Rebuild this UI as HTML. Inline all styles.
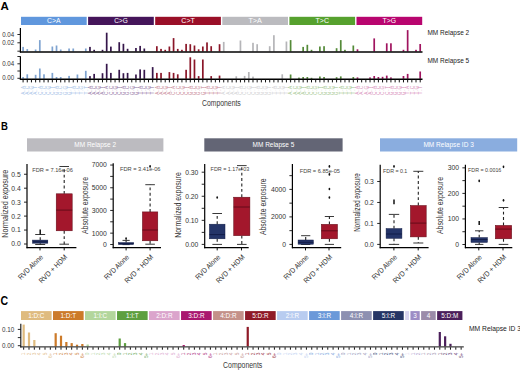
<!DOCTYPE html>
<html><head><meta charset="utf-8"><style>
html,body{margin:0;padding:0;background:#fff;}
body{width:520px;height:371px;overflow:hidden;}
svg{display:block;font-family:"Liberation Sans", sans-serif;}
</style></head><body>
<svg width="520" height="371" viewBox="0 0 520 371">
<rect width="520" height="371" fill="#fff"/>
<text x="0.6" y="10.2" font-size="11.5" fill="#000" text-anchor="start" font-weight="bold">A</text>
<rect x="21" y="16.8" width="65.7" height="8.2" fill="#6097dd"/>
<text x="53.85" y="23.2" font-size="6.8" fill="#fff" text-anchor="middle" font-weight="normal" textLength="13.5" lengthAdjust="spacingAndGlyphs">C&gt;A</text>
<rect x="88.1" y="16.8" width="65.7" height="8.2" fill="#45155a"/>
<text x="120.95" y="23.2" font-size="6.8" fill="#fff" text-anchor="middle" font-weight="normal" textLength="13.5" lengthAdjust="spacingAndGlyphs">C&gt;G</text>
<rect x="155.2" y="16.8" width="65.7" height="8.2" fill="#9a0f28"/>
<text x="188.05" y="23.2" font-size="6.8" fill="#fff" text-anchor="middle" font-weight="normal" textLength="13.5" lengthAdjust="spacingAndGlyphs">C&gt;T</text>
<rect x="222.3" y="16.8" width="65.7" height="8.2" fill="#bbbbbf"/>
<text x="255.15" y="23.2" font-size="6.8" fill="#fff" text-anchor="middle" font-weight="normal" textLength="13.5" lengthAdjust="spacingAndGlyphs">T&gt;A</text>
<rect x="289.4" y="16.8" width="65.7" height="8.2" fill="#56a12e"/>
<text x="322.25" y="23.2" font-size="6.8" fill="#fff" text-anchor="middle" font-weight="normal" textLength="13.5" lengthAdjust="spacingAndGlyphs">T&gt;C</text>
<rect x="356.5" y="16.8" width="65.7" height="8.2" fill="#b8056f"/>
<text x="389.35" y="23.2" font-size="6.8" fill="#fff" text-anchor="middle" font-weight="normal" textLength="13.5" lengthAdjust="spacingAndGlyphs">T&gt;G</text>
<rect x="22.24" y="46.9" width="1.7" height="4.6" fill="#7fa3d0"/>
<rect x="26.42" y="49.1" width="1.7" height="2.4" fill="#7fa3d0"/>
<rect x="34.78" y="49.5" width="1.7" height="2" fill="#7fa3d0"/>
<rect x="38.96" y="40.1" width="1.7" height="11.4" fill="#7fa3d0"/>
<rect x="51.5" y="46.5" width="1.7" height="5" fill="#7fa3d0"/>
<rect x="55.68" y="45.5" width="1.7" height="6" fill="#7fa3d0"/>
<rect x="59.86" y="49.5" width="1.7" height="2" fill="#7fa3d0"/>
<rect x="68.22" y="48.5" width="1.7" height="3" fill="#7fa3d0"/>
<rect x="72.4" y="48.5" width="1.7" height="3" fill="#7fa3d0"/>
<rect x="84.94" y="48.5" width="1.7" height="3" fill="#7fa3d0"/>
<rect x="89.12" y="46.9" width="1.7" height="4.6" fill="#35164a"/>
<rect x="93.3" y="49.8" width="1.7" height="1.7" fill="#35164a"/>
<rect x="101.66" y="49.8" width="1.7" height="1.7" fill="#35164a"/>
<rect x="105.84" y="32.7" width="1.7" height="18.8" fill="#35164a"/>
<rect x="110.02" y="46.6" width="1.7" height="4.9" fill="#35164a"/>
<rect x="118.38" y="42.2" width="1.7" height="9.3" fill="#35164a"/>
<rect x="122.56" y="43.8" width="1.7" height="7.7" fill="#35164a"/>
<rect x="126.74" y="48.8" width="1.7" height="2.7" fill="#35164a"/>
<rect x="135.1" y="48" width="1.7" height="3.5" fill="#35164a"/>
<rect x="139.28" y="45.9" width="1.7" height="5.6" fill="#35164a"/>
<rect x="143.46" y="48.5" width="1.7" height="3" fill="#35164a"/>
<rect x="156" y="46.2" width="1.7" height="5.3" fill="#8a1628"/>
<rect x="160.18" y="48.9" width="1.7" height="2.6" fill="#8a1628"/>
<rect x="164.36" y="49.8" width="1.7" height="1.7" fill="#8a1628"/>
<rect x="168.54" y="46.5" width="1.7" height="5" fill="#8a1628"/>
<rect x="172.72" y="38.1" width="1.7" height="13.4" fill="#8a1628"/>
<rect x="176.9" y="48.9" width="1.7" height="2.6" fill="#8a1628"/>
<rect x="181.08" y="49.8" width="1.7" height="1.7" fill="#8a1628"/>
<rect x="185.26" y="43.9" width="1.7" height="7.6" fill="#8a1628"/>
<rect x="189.44" y="44.2" width="1.7" height="7.3" fill="#8a1628"/>
<rect x="193.62" y="45.5" width="1.7" height="6" fill="#8a1628"/>
<rect x="197.8" y="49.3" width="1.7" height="2.2" fill="#8a1628"/>
<rect x="201.98" y="46.5" width="1.7" height="5" fill="#8a1628"/>
<rect x="206.16" y="42.4" width="1.7" height="9.1" fill="#8a1628"/>
<rect x="210.34" y="46.2" width="1.7" height="5.3" fill="#8a1628"/>
<rect x="218.7" y="44.2" width="1.7" height="7.3" fill="#8a1628"/>
<rect x="222.88" y="41.9" width="1.7" height="9.6" fill="#b5b5b8"/>
<rect x="239.6" y="40.5" width="1.7" height="11" fill="#b5b5b8"/>
<rect x="252.14" y="42.8" width="1.7" height="8.7" fill="#b5b5b8"/>
<rect x="256.32" y="44.2" width="1.7" height="7.3" fill="#b5b5b8"/>
<rect x="268.86" y="46.2" width="1.7" height="5.3" fill="#b5b5b8"/>
<rect x="273.04" y="35.2" width="1.7" height="16.3" fill="#b5b5b8"/>
<rect x="285.58" y="41.5" width="1.7" height="10" fill="#b5b5b8"/>
<rect x="289.76" y="40.1" width="1.7" height="11.4" fill="#548a38"/>
<rect x="302.3" y="46.9" width="1.7" height="4.6" fill="#548a38"/>
<rect x="306.48" y="44.8" width="1.7" height="6.7" fill="#548a38"/>
<rect x="310.66" y="49.8" width="1.7" height="1.7" fill="#548a38"/>
<rect x="319.02" y="46.5" width="1.7" height="5" fill="#548a38"/>
<rect x="323.2" y="46.2" width="1.7" height="5.3" fill="#548a38"/>
<rect x="335.74" y="48.2" width="1.7" height="3.3" fill="#548a38"/>
<rect x="339.92" y="40.1" width="1.7" height="11.4" fill="#548a38"/>
<rect x="344.1" y="49.8" width="1.7" height="1.7" fill="#548a38"/>
<rect x="352.46" y="45.5" width="1.7" height="6" fill="#548a38"/>
<rect x="356.64" y="49.3" width="1.7" height="2.2" fill="#a0145f"/>
<rect x="373.36" y="38.4" width="1.7" height="13.1" fill="#a0145f"/>
<rect x="385.9" y="43.3" width="1.7" height="8.2" fill="#a0145f"/>
<rect x="390.08" y="43.3" width="1.7" height="8.2" fill="#a0145f"/>
<rect x="402.62" y="49.8" width="1.7" height="1.7" fill="#a0145f"/>
<rect x="406.8" y="30.1" width="1.7" height="21.4" fill="#a0145f"/>
<rect x="415.16" y="49.8" width="1.7" height="1.7" fill="#a0145f"/>
<rect x="419.34" y="44" width="1.7" height="7.5" fill="#a0145f"/>
<rect x="22.24" y="77" width="1.7" height="1.8" fill="#7fa3d0"/>
<rect x="26.42" y="74.3" width="1.7" height="4.5" fill="#7fa3d0"/>
<rect x="34.78" y="74.8" width="1.7" height="4" fill="#7fa3d0"/>
<rect x="38.96" y="68.5" width="1.7" height="10.3" fill="#7fa3d0"/>
<rect x="43.14" y="74.3" width="1.7" height="4.5" fill="#7fa3d0"/>
<rect x="51.5" y="72.9" width="1.7" height="5.9" fill="#7fa3d0"/>
<rect x="55.68" y="77" width="1.7" height="1.8" fill="#7fa3d0"/>
<rect x="59.86" y="77" width="1.7" height="1.8" fill="#7fa3d0"/>
<rect x="68.22" y="75.9" width="1.7" height="2.9" fill="#7fa3d0"/>
<rect x="76.58" y="74.5" width="1.7" height="4.3" fill="#7fa3d0"/>
<rect x="84.94" y="70.8" width="1.7" height="8" fill="#7fa3d0"/>
<rect x="89.12" y="76.1" width="1.7" height="2.7" fill="#35164a"/>
<rect x="93.3" y="73.9" width="1.7" height="4.9" fill="#35164a"/>
<rect x="101.66" y="73.2" width="1.7" height="5.6" fill="#35164a"/>
<rect x="105.84" y="63.8" width="1.7" height="15" fill="#35164a"/>
<rect x="110.02" y="72.9" width="1.7" height="5.9" fill="#35164a"/>
<rect x="118.38" y="69.8" width="1.7" height="9" fill="#35164a"/>
<rect x="122.56" y="73.2" width="1.7" height="5.6" fill="#35164a"/>
<rect x="126.74" y="72.9" width="1.7" height="5.9" fill="#35164a"/>
<rect x="135.1" y="74.5" width="1.7" height="4.3" fill="#35164a"/>
<rect x="139.28" y="69.4" width="1.7" height="9.4" fill="#35164a"/>
<rect x="143.46" y="69.8" width="1.7" height="9" fill="#35164a"/>
<rect x="151.82" y="67.1" width="1.7" height="11.7" fill="#35164a"/>
<rect x="156" y="72.9" width="1.7" height="5.9" fill="#8a1628"/>
<rect x="160.18" y="72.9" width="1.7" height="5.9" fill="#8a1628"/>
<rect x="168.54" y="72.1" width="1.7" height="6.7" fill="#8a1628"/>
<rect x="172.72" y="72.9" width="1.7" height="5.9" fill="#8a1628"/>
<rect x="176.9" y="74.3" width="1.7" height="4.5" fill="#8a1628"/>
<rect x="185.26" y="69.8" width="1.7" height="9" fill="#8a1628"/>
<rect x="189.44" y="57.3" width="1.7" height="21.5" fill="#8a1628"/>
<rect x="193.62" y="59.5" width="1.7" height="19.3" fill="#8a1628"/>
<rect x="197.8" y="76.1" width="1.7" height="2.7" fill="#8a1628"/>
<rect x="201.98" y="59.5" width="1.7" height="19.3" fill="#8a1628"/>
<rect x="210.34" y="76.1" width="1.7" height="2.7" fill="#8a1628"/>
<rect x="218.7" y="75.6" width="1.7" height="3.2" fill="#8a1628"/>
<rect x="235.42" y="76.3" width="1.7" height="2.5" fill="#b5b5b8"/>
<rect x="243.78" y="75.9" width="1.7" height="2.9" fill="#b5b5b8"/>
<rect x="247.96" y="72" width="1.7" height="6.8" fill="#b5b5b8"/>
<rect x="252.14" y="76.6" width="1.7" height="2.2" fill="#b5b5b8"/>
<rect x="281.4" y="74.3" width="1.7" height="4.5" fill="#b5b5b8"/>
<rect x="289.76" y="74.5" width="1.7" height="4.3" fill="#548a38"/>
<rect x="298.12" y="77.6" width="1.7" height="1.2" fill="#548a38"/>
<rect x="302.3" y="77" width="1.7" height="1.8" fill="#548a38"/>
<rect x="306.48" y="77" width="1.7" height="1.8" fill="#548a38"/>
<rect x="310.66" y="77.8" width="1.7" height="1" fill="#548a38"/>
<rect x="319.02" y="76.5" width="1.7" height="2.3" fill="#548a38"/>
<rect x="323.2" y="77" width="1.7" height="1.8" fill="#548a38"/>
<rect x="335.74" y="77.2" width="1.7" height="1.6" fill="#548a38"/>
<rect x="339.92" y="76.4" width="1.7" height="2.4" fill="#548a38"/>
<rect x="352.46" y="77" width="1.7" height="1.8" fill="#548a38"/>
<rect x="356.64" y="77.4" width="1.7" height="1.4" fill="#a0145f"/>
<rect x="369.18" y="77.4" width="1.7" height="1.4" fill="#a0145f"/>
<rect x="373.36" y="76" width="1.7" height="2.8" fill="#a0145f"/>
<rect x="377.54" y="77" width="1.7" height="1.8" fill="#a0145f"/>
<rect x="381.72" y="76.8" width="1.7" height="2" fill="#a0145f"/>
<rect x="385.9" y="75.6" width="1.7" height="3.2" fill="#a0145f"/>
<rect x="390.08" y="77.4" width="1.7" height="1.4" fill="#a0145f"/>
<rect x="402.62" y="76" width="1.7" height="2.8" fill="#a0145f"/>
<rect x="406.8" y="73.9" width="1.7" height="4.9" fill="#a0145f"/>
<rect x="419.34" y="71.5" width="1.7" height="7.3" fill="#a0145f"/>
<line x1="20.4" y1="28.1" x2="20.4" y2="52.6" stroke="#000" stroke-width="1.2"/>
<line x1="19.9" y1="51.9" x2="422.5" y2="51.9" stroke="#000" stroke-width="1.5"/>
<line x1="17.4" y1="34.5" x2="20.4" y2="34.5" stroke="#111" stroke-width="0.9"/>
<line x1="17.4" y1="42.8" x2="20.4" y2="42.8" stroke="#111" stroke-width="0.9"/>
<line x1="17.4" y1="51.2" x2="20.4" y2="51.2" stroke="#111" stroke-width="0.9"/>
<text x="14.2" y="36.6" font-size="6.4" fill="#333" text-anchor="end" font-weight="normal" textLength="12" lengthAdjust="spacingAndGlyphs">0.04</text>
<text x="14.2" y="44.5" font-size="6.4" fill="#333" text-anchor="end" font-weight="normal" textLength="12" lengthAdjust="spacingAndGlyphs">0.02</text>
<line x1="20.4" y1="56.3" x2="20.4" y2="79.7" stroke="#000" stroke-width="1.2"/>
<line x1="19.9" y1="79.2" x2="422.5" y2="79.2" stroke="#000" stroke-width="1.4"/>
<line x1="17.4" y1="56.5" x2="20.4" y2="56.5" stroke="#111" stroke-width="0.9"/>
<line x1="17.4" y1="63.8" x2="20.4" y2="63.8" stroke="#111" stroke-width="0.9"/>
<line x1="17.4" y1="71" x2="20.4" y2="71" stroke="#111" stroke-width="0.9"/>
<line x1="17.4" y1="78.3" x2="20.4" y2="78.3" stroke="#111" stroke-width="0.9"/>
<text x="14.2" y="65.9" font-size="6.4" fill="#333" text-anchor="end" font-weight="normal" textLength="12" lengthAdjust="spacingAndGlyphs">0.04</text>
<text x="14.2" y="80.4" font-size="6.4" fill="#333" text-anchor="end" font-weight="normal" textLength="12" lengthAdjust="spacingAndGlyphs">0.00</text>
<line x1="23.09" y1="79.6" x2="23.09" y2="82.4" stroke="#111" stroke-width="1"/>
<line x1="27.27" y1="79.6" x2="27.27" y2="82.4" stroke="#111" stroke-width="1"/>
<line x1="31.45" y1="79.6" x2="31.45" y2="82.4" stroke="#111" stroke-width="1"/>
<line x1="35.63" y1="79.6" x2="35.63" y2="82.4" stroke="#111" stroke-width="1"/>
<line x1="39.81" y1="79.6" x2="39.81" y2="82.4" stroke="#111" stroke-width="1"/>
<line x1="43.99" y1="79.6" x2="43.99" y2="82.4" stroke="#111" stroke-width="1"/>
<line x1="48.17" y1="79.6" x2="48.17" y2="82.4" stroke="#111" stroke-width="1"/>
<line x1="52.35" y1="79.6" x2="52.35" y2="82.4" stroke="#111" stroke-width="1"/>
<line x1="56.53" y1="79.6" x2="56.53" y2="82.4" stroke="#111" stroke-width="1"/>
<line x1="60.71" y1="79.6" x2="60.71" y2="82.4" stroke="#111" stroke-width="1"/>
<line x1="64.89" y1="79.6" x2="64.89" y2="82.4" stroke="#111" stroke-width="1"/>
<line x1="69.07" y1="79.6" x2="69.07" y2="82.4" stroke="#111" stroke-width="1"/>
<line x1="73.25" y1="79.6" x2="73.25" y2="82.4" stroke="#111" stroke-width="1"/>
<line x1="77.43" y1="79.6" x2="77.43" y2="82.4" stroke="#111" stroke-width="1"/>
<line x1="81.61" y1="79.6" x2="81.61" y2="82.4" stroke="#111" stroke-width="1"/>
<line x1="85.79" y1="79.6" x2="85.79" y2="82.4" stroke="#111" stroke-width="1"/>
<line x1="89.97" y1="79.6" x2="89.97" y2="82.4" stroke="#111" stroke-width="1"/>
<line x1="94.15" y1="79.6" x2="94.15" y2="82.4" stroke="#111" stroke-width="1"/>
<line x1="98.33" y1="79.6" x2="98.33" y2="82.4" stroke="#111" stroke-width="1"/>
<line x1="102.51" y1="79.6" x2="102.51" y2="82.4" stroke="#111" stroke-width="1"/>
<line x1="106.69" y1="79.6" x2="106.69" y2="82.4" stroke="#111" stroke-width="1"/>
<line x1="110.87" y1="79.6" x2="110.87" y2="82.4" stroke="#111" stroke-width="1"/>
<line x1="115.05" y1="79.6" x2="115.05" y2="82.4" stroke="#111" stroke-width="1"/>
<line x1="119.23" y1="79.6" x2="119.23" y2="82.4" stroke="#111" stroke-width="1"/>
<line x1="123.41" y1="79.6" x2="123.41" y2="82.4" stroke="#111" stroke-width="1"/>
<line x1="127.59" y1="79.6" x2="127.59" y2="82.4" stroke="#111" stroke-width="1"/>
<line x1="131.77" y1="79.6" x2="131.77" y2="82.4" stroke="#111" stroke-width="1"/>
<line x1="135.95" y1="79.6" x2="135.95" y2="82.4" stroke="#111" stroke-width="1"/>
<line x1="140.13" y1="79.6" x2="140.13" y2="82.4" stroke="#111" stroke-width="1"/>
<line x1="144.31" y1="79.6" x2="144.31" y2="82.4" stroke="#111" stroke-width="1"/>
<line x1="148.49" y1="79.6" x2="148.49" y2="82.4" stroke="#111" stroke-width="1"/>
<line x1="152.67" y1="79.6" x2="152.67" y2="82.4" stroke="#111" stroke-width="1"/>
<line x1="156.85" y1="79.6" x2="156.85" y2="82.4" stroke="#111" stroke-width="1"/>
<line x1="161.03" y1="79.6" x2="161.03" y2="82.4" stroke="#111" stroke-width="1"/>
<line x1="165.21" y1="79.6" x2="165.21" y2="82.4" stroke="#111" stroke-width="1"/>
<line x1="169.39" y1="79.6" x2="169.39" y2="82.4" stroke="#111" stroke-width="1"/>
<line x1="173.57" y1="79.6" x2="173.57" y2="82.4" stroke="#111" stroke-width="1"/>
<line x1="177.75" y1="79.6" x2="177.75" y2="82.4" stroke="#111" stroke-width="1"/>
<line x1="181.93" y1="79.6" x2="181.93" y2="82.4" stroke="#111" stroke-width="1"/>
<line x1="186.11" y1="79.6" x2="186.11" y2="82.4" stroke="#111" stroke-width="1"/>
<line x1="190.29" y1="79.6" x2="190.29" y2="82.4" stroke="#111" stroke-width="1"/>
<line x1="194.47" y1="79.6" x2="194.47" y2="82.4" stroke="#111" stroke-width="1"/>
<line x1="198.65" y1="79.6" x2="198.65" y2="82.4" stroke="#111" stroke-width="1"/>
<line x1="202.83" y1="79.6" x2="202.83" y2="82.4" stroke="#111" stroke-width="1"/>
<line x1="207.01" y1="79.6" x2="207.01" y2="82.4" stroke="#111" stroke-width="1"/>
<line x1="211.19" y1="79.6" x2="211.19" y2="82.4" stroke="#111" stroke-width="1"/>
<line x1="215.37" y1="79.6" x2="215.37" y2="82.4" stroke="#111" stroke-width="1"/>
<line x1="219.55" y1="79.6" x2="219.55" y2="82.4" stroke="#111" stroke-width="1"/>
<line x1="223.73" y1="79.6" x2="223.73" y2="82.4" stroke="#111" stroke-width="1"/>
<line x1="227.91" y1="79.6" x2="227.91" y2="82.4" stroke="#111" stroke-width="1"/>
<line x1="232.09" y1="79.6" x2="232.09" y2="82.4" stroke="#111" stroke-width="1"/>
<line x1="236.27" y1="79.6" x2="236.27" y2="82.4" stroke="#111" stroke-width="1"/>
<line x1="240.45" y1="79.6" x2="240.45" y2="82.4" stroke="#111" stroke-width="1"/>
<line x1="244.63" y1="79.6" x2="244.63" y2="82.4" stroke="#111" stroke-width="1"/>
<line x1="248.81" y1="79.6" x2="248.81" y2="82.4" stroke="#111" stroke-width="1"/>
<line x1="252.99" y1="79.6" x2="252.99" y2="82.4" stroke="#111" stroke-width="1"/>
<line x1="257.17" y1="79.6" x2="257.17" y2="82.4" stroke="#111" stroke-width="1"/>
<line x1="261.35" y1="79.6" x2="261.35" y2="82.4" stroke="#111" stroke-width="1"/>
<line x1="265.53" y1="79.6" x2="265.53" y2="82.4" stroke="#111" stroke-width="1"/>
<line x1="269.71" y1="79.6" x2="269.71" y2="82.4" stroke="#111" stroke-width="1"/>
<line x1="273.89" y1="79.6" x2="273.89" y2="82.4" stroke="#111" stroke-width="1"/>
<line x1="278.07" y1="79.6" x2="278.07" y2="82.4" stroke="#111" stroke-width="1"/>
<line x1="282.25" y1="79.6" x2="282.25" y2="82.4" stroke="#111" stroke-width="1"/>
<line x1="286.43" y1="79.6" x2="286.43" y2="82.4" stroke="#111" stroke-width="1"/>
<line x1="290.61" y1="79.6" x2="290.61" y2="82.4" stroke="#111" stroke-width="1"/>
<line x1="294.79" y1="79.6" x2="294.79" y2="82.4" stroke="#111" stroke-width="1"/>
<line x1="298.97" y1="79.6" x2="298.97" y2="82.4" stroke="#111" stroke-width="1"/>
<line x1="303.15" y1="79.6" x2="303.15" y2="82.4" stroke="#111" stroke-width="1"/>
<line x1="307.33" y1="79.6" x2="307.33" y2="82.4" stroke="#111" stroke-width="1"/>
<line x1="311.51" y1="79.6" x2="311.51" y2="82.4" stroke="#111" stroke-width="1"/>
<line x1="315.69" y1="79.6" x2="315.69" y2="82.4" stroke="#111" stroke-width="1"/>
<line x1="319.87" y1="79.6" x2="319.87" y2="82.4" stroke="#111" stroke-width="1"/>
<line x1="324.05" y1="79.6" x2="324.05" y2="82.4" stroke="#111" stroke-width="1"/>
<line x1="328.23" y1="79.6" x2="328.23" y2="82.4" stroke="#111" stroke-width="1"/>
<line x1="332.41" y1="79.6" x2="332.41" y2="82.4" stroke="#111" stroke-width="1"/>
<line x1="336.59" y1="79.6" x2="336.59" y2="82.4" stroke="#111" stroke-width="1"/>
<line x1="340.77" y1="79.6" x2="340.77" y2="82.4" stroke="#111" stroke-width="1"/>
<line x1="344.95" y1="79.6" x2="344.95" y2="82.4" stroke="#111" stroke-width="1"/>
<line x1="349.13" y1="79.6" x2="349.13" y2="82.4" stroke="#111" stroke-width="1"/>
<line x1="353.31" y1="79.6" x2="353.31" y2="82.4" stroke="#111" stroke-width="1"/>
<line x1="357.49" y1="79.6" x2="357.49" y2="82.4" stroke="#111" stroke-width="1"/>
<line x1="361.67" y1="79.6" x2="361.67" y2="82.4" stroke="#111" stroke-width="1"/>
<line x1="365.85" y1="79.6" x2="365.85" y2="82.4" stroke="#111" stroke-width="1"/>
<line x1="370.03" y1="79.6" x2="370.03" y2="82.4" stroke="#111" stroke-width="1"/>
<line x1="374.21" y1="79.6" x2="374.21" y2="82.4" stroke="#111" stroke-width="1"/>
<line x1="378.39" y1="79.6" x2="378.39" y2="82.4" stroke="#111" stroke-width="1"/>
<line x1="382.57" y1="79.6" x2="382.57" y2="82.4" stroke="#111" stroke-width="1"/>
<line x1="386.75" y1="79.6" x2="386.75" y2="82.4" stroke="#111" stroke-width="1"/>
<line x1="390.93" y1="79.6" x2="390.93" y2="82.4" stroke="#111" stroke-width="1"/>
<line x1="395.11" y1="79.6" x2="395.11" y2="82.4" stroke="#111" stroke-width="1"/>
<line x1="399.29" y1="79.6" x2="399.29" y2="82.4" stroke="#111" stroke-width="1"/>
<line x1="403.47" y1="79.6" x2="403.47" y2="82.4" stroke="#111" stroke-width="1"/>
<line x1="407.65" y1="79.6" x2="407.65" y2="82.4" stroke="#111" stroke-width="1"/>
<line x1="411.83" y1="79.6" x2="411.83" y2="82.4" stroke="#111" stroke-width="1"/>
<line x1="416.01" y1="79.6" x2="416.01" y2="82.4" stroke="#111" stroke-width="1"/>
<line x1="420.19" y1="79.6" x2="420.19" y2="82.4" stroke="#111" stroke-width="1"/>
<text transform="translate(24.84,85.7) rotate(-90)" font-size="4.8" fill="#9dbde6" text-anchor="end">A</text>
<text transform="translate(24.84,89.3) rotate(-90)" font-size="4.8" fill="#9dbde6" text-anchor="end">.</text>
<text transform="translate(24.84,91.5) rotate(-90)" font-size="4.8" fill="#9dbde6" text-anchor="end">A</text>
<text transform="translate(29.02,85.7) rotate(-90)" font-size="4.8" fill="#9dbde6" text-anchor="end">C</text>
<text transform="translate(29.02,89.3) rotate(-90)" font-size="4.8" fill="#9dbde6" text-anchor="end">.</text>
<text transform="translate(29.02,91.5) rotate(-90)" font-size="4.8" fill="#9dbde6" text-anchor="end">A</text>
<text transform="translate(33.2,85.7) rotate(-90)" font-size="4.8" fill="#9dbde6" text-anchor="end">G</text>
<text transform="translate(33.2,89.3) rotate(-90)" font-size="4.8" fill="#9dbde6" text-anchor="end">.</text>
<text transform="translate(33.2,91.5) rotate(-90)" font-size="4.8" fill="#9dbde6" text-anchor="end">A</text>
<text transform="translate(37.38,85.7) rotate(-90)" font-size="4.8" fill="#9dbde6" text-anchor="end">T</text>
<text transform="translate(37.38,89.3) rotate(-90)" font-size="4.8" fill="#9dbde6" text-anchor="end">.</text>
<text transform="translate(37.38,91.5) rotate(-90)" font-size="4.8" fill="#9dbde6" text-anchor="end">A</text>
<text transform="translate(41.56,85.7) rotate(-90)" font-size="4.8" fill="#9dbde6" text-anchor="end">A</text>
<text transform="translate(41.56,89.3) rotate(-90)" font-size="4.8" fill="#9dbde6" text-anchor="end">.</text>
<text transform="translate(41.56,91.5) rotate(-90)" font-size="4.8" fill="#9dbde6" text-anchor="end">C</text>
<text transform="translate(45.74,85.7) rotate(-90)" font-size="4.8" fill="#9dbde6" text-anchor="end">C</text>
<text transform="translate(45.74,89.3) rotate(-90)" font-size="4.8" fill="#9dbde6" text-anchor="end">.</text>
<text transform="translate(45.74,91.5) rotate(-90)" font-size="4.8" fill="#9dbde6" text-anchor="end">C</text>
<text transform="translate(49.92,85.7) rotate(-90)" font-size="4.8" fill="#9dbde6" text-anchor="end">G</text>
<text transform="translate(49.92,89.3) rotate(-90)" font-size="4.8" fill="#9dbde6" text-anchor="end">.</text>
<text transform="translate(49.92,91.5) rotate(-90)" font-size="4.8" fill="#9dbde6" text-anchor="end">C</text>
<text transform="translate(54.1,85.7) rotate(-90)" font-size="4.8" fill="#9dbde6" text-anchor="end">T</text>
<text transform="translate(54.1,89.3) rotate(-90)" font-size="4.8" fill="#9dbde6" text-anchor="end">.</text>
<text transform="translate(54.1,91.5) rotate(-90)" font-size="4.8" fill="#9dbde6" text-anchor="end">C</text>
<text transform="translate(58.28,85.7) rotate(-90)" font-size="4.8" fill="#9dbde6" text-anchor="end">A</text>
<text transform="translate(58.28,89.3) rotate(-90)" font-size="4.8" fill="#9dbde6" text-anchor="end">.</text>
<text transform="translate(58.28,91.5) rotate(-90)" font-size="4.8" fill="#9dbde6" text-anchor="end">G</text>
<text transform="translate(62.46,85.7) rotate(-90)" font-size="4.8" fill="#9dbde6" text-anchor="end">C</text>
<text transform="translate(62.46,89.3) rotate(-90)" font-size="4.8" fill="#9dbde6" text-anchor="end">.</text>
<text transform="translate(62.46,91.5) rotate(-90)" font-size="4.8" fill="#9dbde6" text-anchor="end">G</text>
<text transform="translate(66.64,85.7) rotate(-90)" font-size="4.8" fill="#9dbde6" text-anchor="end">G</text>
<text transform="translate(66.64,89.3) rotate(-90)" font-size="4.8" fill="#9dbde6" text-anchor="end">.</text>
<text transform="translate(66.64,91.5) rotate(-90)" font-size="4.8" fill="#9dbde6" text-anchor="end">G</text>
<text transform="translate(70.82,85.7) rotate(-90)" font-size="4.8" fill="#9dbde6" text-anchor="end">T</text>
<text transform="translate(70.82,89.3) rotate(-90)" font-size="4.8" fill="#9dbde6" text-anchor="end">.</text>
<text transform="translate(70.82,91.5) rotate(-90)" font-size="4.8" fill="#9dbde6" text-anchor="end">G</text>
<text transform="translate(75,85.7) rotate(-90)" font-size="4.8" fill="#9dbde6" text-anchor="end">A</text>
<text transform="translate(75,89.3) rotate(-90)" font-size="4.8" fill="#9dbde6" text-anchor="end">.</text>
<text transform="translate(75,91.5) rotate(-90)" font-size="4.8" fill="#9dbde6" text-anchor="end">T</text>
<text transform="translate(79.18,85.7) rotate(-90)" font-size="4.8" fill="#9dbde6" text-anchor="end">C</text>
<text transform="translate(79.18,89.3) rotate(-90)" font-size="4.8" fill="#9dbde6" text-anchor="end">.</text>
<text transform="translate(79.18,91.5) rotate(-90)" font-size="4.8" fill="#9dbde6" text-anchor="end">T</text>
<text transform="translate(83.36,85.7) rotate(-90)" font-size="4.8" fill="#9dbde6" text-anchor="end">G</text>
<text transform="translate(83.36,89.3) rotate(-90)" font-size="4.8" fill="#9dbde6" text-anchor="end">.</text>
<text transform="translate(83.36,91.5) rotate(-90)" font-size="4.8" fill="#9dbde6" text-anchor="end">T</text>
<text transform="translate(87.54,85.7) rotate(-90)" font-size="4.8" fill="#9dbde6" text-anchor="end">T</text>
<text transform="translate(87.54,89.3) rotate(-90)" font-size="4.8" fill="#9dbde6" text-anchor="end">.</text>
<text transform="translate(87.54,91.5) rotate(-90)" font-size="4.8" fill="#9dbde6" text-anchor="end">T</text>
<text transform="translate(91.72,85.7) rotate(-90)" font-size="4.8" fill="#8c6e9c" text-anchor="end">A</text>
<text transform="translate(91.72,89.3) rotate(-90)" font-size="4.8" fill="#8c6e9c" text-anchor="end">.</text>
<text transform="translate(91.72,91.5) rotate(-90)" font-size="4.8" fill="#8c6e9c" text-anchor="end">A</text>
<text transform="translate(95.9,85.7) rotate(-90)" font-size="4.8" fill="#8c6e9c" text-anchor="end">C</text>
<text transform="translate(95.9,89.3) rotate(-90)" font-size="4.8" fill="#8c6e9c" text-anchor="end">.</text>
<text transform="translate(95.9,91.5) rotate(-90)" font-size="4.8" fill="#8c6e9c" text-anchor="end">A</text>
<text transform="translate(100.08,85.7) rotate(-90)" font-size="4.8" fill="#8c6e9c" text-anchor="end">G</text>
<text transform="translate(100.08,89.3) rotate(-90)" font-size="4.8" fill="#8c6e9c" text-anchor="end">.</text>
<text transform="translate(100.08,91.5) rotate(-90)" font-size="4.8" fill="#8c6e9c" text-anchor="end">A</text>
<text transform="translate(104.26,85.7) rotate(-90)" font-size="4.8" fill="#8c6e9c" text-anchor="end">T</text>
<text transform="translate(104.26,89.3) rotate(-90)" font-size="4.8" fill="#8c6e9c" text-anchor="end">.</text>
<text transform="translate(104.26,91.5) rotate(-90)" font-size="4.8" fill="#8c6e9c" text-anchor="end">A</text>
<text transform="translate(108.44,85.7) rotate(-90)" font-size="4.8" fill="#8c6e9c" text-anchor="end">A</text>
<text transform="translate(108.44,89.3) rotate(-90)" font-size="4.8" fill="#8c6e9c" text-anchor="end">.</text>
<text transform="translate(108.44,91.5) rotate(-90)" font-size="4.8" fill="#8c6e9c" text-anchor="end">C</text>
<text transform="translate(112.62,85.7) rotate(-90)" font-size="4.8" fill="#8c6e9c" text-anchor="end">C</text>
<text transform="translate(112.62,89.3) rotate(-90)" font-size="4.8" fill="#8c6e9c" text-anchor="end">.</text>
<text transform="translate(112.62,91.5) rotate(-90)" font-size="4.8" fill="#8c6e9c" text-anchor="end">C</text>
<text transform="translate(116.8,85.7) rotate(-90)" font-size="4.8" fill="#8c6e9c" text-anchor="end">G</text>
<text transform="translate(116.8,89.3) rotate(-90)" font-size="4.8" fill="#8c6e9c" text-anchor="end">.</text>
<text transform="translate(116.8,91.5) rotate(-90)" font-size="4.8" fill="#8c6e9c" text-anchor="end">C</text>
<text transform="translate(120.98,85.7) rotate(-90)" font-size="4.8" fill="#8c6e9c" text-anchor="end">T</text>
<text transform="translate(120.98,89.3) rotate(-90)" font-size="4.8" fill="#8c6e9c" text-anchor="end">.</text>
<text transform="translate(120.98,91.5) rotate(-90)" font-size="4.8" fill="#8c6e9c" text-anchor="end">C</text>
<text transform="translate(125.16,85.7) rotate(-90)" font-size="4.8" fill="#8c6e9c" text-anchor="end">A</text>
<text transform="translate(125.16,89.3) rotate(-90)" font-size="4.8" fill="#8c6e9c" text-anchor="end">.</text>
<text transform="translate(125.16,91.5) rotate(-90)" font-size="4.8" fill="#8c6e9c" text-anchor="end">G</text>
<text transform="translate(129.34,85.7) rotate(-90)" font-size="4.8" fill="#8c6e9c" text-anchor="end">C</text>
<text transform="translate(129.34,89.3) rotate(-90)" font-size="4.8" fill="#8c6e9c" text-anchor="end">.</text>
<text transform="translate(129.34,91.5) rotate(-90)" font-size="4.8" fill="#8c6e9c" text-anchor="end">G</text>
<text transform="translate(133.52,85.7) rotate(-90)" font-size="4.8" fill="#8c6e9c" text-anchor="end">G</text>
<text transform="translate(133.52,89.3) rotate(-90)" font-size="4.8" fill="#8c6e9c" text-anchor="end">.</text>
<text transform="translate(133.52,91.5) rotate(-90)" font-size="4.8" fill="#8c6e9c" text-anchor="end">G</text>
<text transform="translate(137.7,85.7) rotate(-90)" font-size="4.8" fill="#8c6e9c" text-anchor="end">T</text>
<text transform="translate(137.7,89.3) rotate(-90)" font-size="4.8" fill="#8c6e9c" text-anchor="end">.</text>
<text transform="translate(137.7,91.5) rotate(-90)" font-size="4.8" fill="#8c6e9c" text-anchor="end">G</text>
<text transform="translate(141.88,85.7) rotate(-90)" font-size="4.8" fill="#8c6e9c" text-anchor="end">A</text>
<text transform="translate(141.88,89.3) rotate(-90)" font-size="4.8" fill="#8c6e9c" text-anchor="end">.</text>
<text transform="translate(141.88,91.5) rotate(-90)" font-size="4.8" fill="#8c6e9c" text-anchor="end">T</text>
<text transform="translate(146.06,85.7) rotate(-90)" font-size="4.8" fill="#8c6e9c" text-anchor="end">C</text>
<text transform="translate(146.06,89.3) rotate(-90)" font-size="4.8" fill="#8c6e9c" text-anchor="end">.</text>
<text transform="translate(146.06,91.5) rotate(-90)" font-size="4.8" fill="#8c6e9c" text-anchor="end">T</text>
<text transform="translate(150.24,85.7) rotate(-90)" font-size="4.8" fill="#8c6e9c" text-anchor="end">G</text>
<text transform="translate(150.24,89.3) rotate(-90)" font-size="4.8" fill="#8c6e9c" text-anchor="end">.</text>
<text transform="translate(150.24,91.5) rotate(-90)" font-size="4.8" fill="#8c6e9c" text-anchor="end">T</text>
<text transform="translate(154.42,85.7) rotate(-90)" font-size="4.8" fill="#8c6e9c" text-anchor="end">T</text>
<text transform="translate(154.42,89.3) rotate(-90)" font-size="4.8" fill="#8c6e9c" text-anchor="end">.</text>
<text transform="translate(154.42,91.5) rotate(-90)" font-size="4.8" fill="#8c6e9c" text-anchor="end">T</text>
<text transform="translate(158.6,85.7) rotate(-90)" font-size="4.8" fill="#c47e8c" text-anchor="end">A</text>
<text transform="translate(158.6,89.3) rotate(-90)" font-size="4.8" fill="#c47e8c" text-anchor="end">.</text>
<text transform="translate(158.6,91.5) rotate(-90)" font-size="4.8" fill="#c47e8c" text-anchor="end">A</text>
<text transform="translate(162.78,85.7) rotate(-90)" font-size="4.8" fill="#c47e8c" text-anchor="end">C</text>
<text transform="translate(162.78,89.3) rotate(-90)" font-size="4.8" fill="#c47e8c" text-anchor="end">.</text>
<text transform="translate(162.78,91.5) rotate(-90)" font-size="4.8" fill="#c47e8c" text-anchor="end">A</text>
<text transform="translate(166.96,85.7) rotate(-90)" font-size="4.8" fill="#c47e8c" text-anchor="end">G</text>
<text transform="translate(166.96,89.3) rotate(-90)" font-size="4.8" fill="#c47e8c" text-anchor="end">.</text>
<text transform="translate(166.96,91.5) rotate(-90)" font-size="4.8" fill="#c47e8c" text-anchor="end">A</text>
<text transform="translate(171.14,85.7) rotate(-90)" font-size="4.8" fill="#c47e8c" text-anchor="end">T</text>
<text transform="translate(171.14,89.3) rotate(-90)" font-size="4.8" fill="#c47e8c" text-anchor="end">.</text>
<text transform="translate(171.14,91.5) rotate(-90)" font-size="4.8" fill="#c47e8c" text-anchor="end">A</text>
<text transform="translate(175.32,85.7) rotate(-90)" font-size="4.8" fill="#c47e8c" text-anchor="end">A</text>
<text transform="translate(175.32,89.3) rotate(-90)" font-size="4.8" fill="#c47e8c" text-anchor="end">.</text>
<text transform="translate(175.32,91.5) rotate(-90)" font-size="4.8" fill="#c47e8c" text-anchor="end">C</text>
<text transform="translate(179.5,85.7) rotate(-90)" font-size="4.8" fill="#c47e8c" text-anchor="end">C</text>
<text transform="translate(179.5,89.3) rotate(-90)" font-size="4.8" fill="#c47e8c" text-anchor="end">.</text>
<text transform="translate(179.5,91.5) rotate(-90)" font-size="4.8" fill="#c47e8c" text-anchor="end">C</text>
<text transform="translate(183.68,85.7) rotate(-90)" font-size="4.8" fill="#c47e8c" text-anchor="end">G</text>
<text transform="translate(183.68,89.3) rotate(-90)" font-size="4.8" fill="#c47e8c" text-anchor="end">.</text>
<text transform="translate(183.68,91.5) rotate(-90)" font-size="4.8" fill="#c47e8c" text-anchor="end">C</text>
<text transform="translate(187.86,85.7) rotate(-90)" font-size="4.8" fill="#c47e8c" text-anchor="end">T</text>
<text transform="translate(187.86,89.3) rotate(-90)" font-size="4.8" fill="#c47e8c" text-anchor="end">.</text>
<text transform="translate(187.86,91.5) rotate(-90)" font-size="4.8" fill="#c47e8c" text-anchor="end">C</text>
<text transform="translate(192.04,85.7) rotate(-90)" font-size="4.8" fill="#c47e8c" text-anchor="end">A</text>
<text transform="translate(192.04,89.3) rotate(-90)" font-size="4.8" fill="#c47e8c" text-anchor="end">.</text>
<text transform="translate(192.04,91.5) rotate(-90)" font-size="4.8" fill="#c47e8c" text-anchor="end">G</text>
<text transform="translate(196.22,85.7) rotate(-90)" font-size="4.8" fill="#c47e8c" text-anchor="end">C</text>
<text transform="translate(196.22,89.3) rotate(-90)" font-size="4.8" fill="#c47e8c" text-anchor="end">.</text>
<text transform="translate(196.22,91.5) rotate(-90)" font-size="4.8" fill="#c47e8c" text-anchor="end">G</text>
<text transform="translate(200.4,85.7) rotate(-90)" font-size="4.8" fill="#c47e8c" text-anchor="end">G</text>
<text transform="translate(200.4,89.3) rotate(-90)" font-size="4.8" fill="#c47e8c" text-anchor="end">.</text>
<text transform="translate(200.4,91.5) rotate(-90)" font-size="4.8" fill="#c47e8c" text-anchor="end">G</text>
<text transform="translate(204.58,85.7) rotate(-90)" font-size="4.8" fill="#c47e8c" text-anchor="end">T</text>
<text transform="translate(204.58,89.3) rotate(-90)" font-size="4.8" fill="#c47e8c" text-anchor="end">.</text>
<text transform="translate(204.58,91.5) rotate(-90)" font-size="4.8" fill="#c47e8c" text-anchor="end">G</text>
<text transform="translate(208.76,85.7) rotate(-90)" font-size="4.8" fill="#c47e8c" text-anchor="end">A</text>
<text transform="translate(208.76,89.3) rotate(-90)" font-size="4.8" fill="#c47e8c" text-anchor="end">.</text>
<text transform="translate(208.76,91.5) rotate(-90)" font-size="4.8" fill="#c47e8c" text-anchor="end">T</text>
<text transform="translate(212.94,85.7) rotate(-90)" font-size="4.8" fill="#c47e8c" text-anchor="end">C</text>
<text transform="translate(212.94,89.3) rotate(-90)" font-size="4.8" fill="#c47e8c" text-anchor="end">.</text>
<text transform="translate(212.94,91.5) rotate(-90)" font-size="4.8" fill="#c47e8c" text-anchor="end">T</text>
<text transform="translate(217.12,85.7) rotate(-90)" font-size="4.8" fill="#c47e8c" text-anchor="end">G</text>
<text transform="translate(217.12,89.3) rotate(-90)" font-size="4.8" fill="#c47e8c" text-anchor="end">.</text>
<text transform="translate(217.12,91.5) rotate(-90)" font-size="4.8" fill="#c47e8c" text-anchor="end">T</text>
<text transform="translate(221.3,85.7) rotate(-90)" font-size="4.8" fill="#c47e8c" text-anchor="end">T</text>
<text transform="translate(221.3,89.3) rotate(-90)" font-size="4.8" fill="#c47e8c" text-anchor="end">.</text>
<text transform="translate(221.3,91.5) rotate(-90)" font-size="4.8" fill="#c47e8c" text-anchor="end">T</text>
<text transform="translate(225.48,85.7) rotate(-90)" font-size="4.8" fill="#cdcdcf" text-anchor="end">A</text>
<text transform="translate(225.48,89.3) rotate(-90)" font-size="4.8" fill="#cdcdcf" text-anchor="end">.</text>
<text transform="translate(225.48,91.5) rotate(-90)" font-size="4.8" fill="#cdcdcf" text-anchor="end">A</text>
<text transform="translate(229.66,85.7) rotate(-90)" font-size="4.8" fill="#cdcdcf" text-anchor="end">C</text>
<text transform="translate(229.66,89.3) rotate(-90)" font-size="4.8" fill="#cdcdcf" text-anchor="end">.</text>
<text transform="translate(229.66,91.5) rotate(-90)" font-size="4.8" fill="#cdcdcf" text-anchor="end">A</text>
<text transform="translate(233.84,85.7) rotate(-90)" font-size="4.8" fill="#cdcdcf" text-anchor="end">G</text>
<text transform="translate(233.84,89.3) rotate(-90)" font-size="4.8" fill="#cdcdcf" text-anchor="end">.</text>
<text transform="translate(233.84,91.5) rotate(-90)" font-size="4.8" fill="#cdcdcf" text-anchor="end">A</text>
<text transform="translate(238.02,85.7) rotate(-90)" font-size="4.8" fill="#cdcdcf" text-anchor="end">T</text>
<text transform="translate(238.02,89.3) rotate(-90)" font-size="4.8" fill="#cdcdcf" text-anchor="end">.</text>
<text transform="translate(238.02,91.5) rotate(-90)" font-size="4.8" fill="#cdcdcf" text-anchor="end">A</text>
<text transform="translate(242.2,85.7) rotate(-90)" font-size="4.8" fill="#cdcdcf" text-anchor="end">A</text>
<text transform="translate(242.2,89.3) rotate(-90)" font-size="4.8" fill="#cdcdcf" text-anchor="end">.</text>
<text transform="translate(242.2,91.5) rotate(-90)" font-size="4.8" fill="#cdcdcf" text-anchor="end">C</text>
<text transform="translate(246.38,85.7) rotate(-90)" font-size="4.8" fill="#cdcdcf" text-anchor="end">C</text>
<text transform="translate(246.38,89.3) rotate(-90)" font-size="4.8" fill="#cdcdcf" text-anchor="end">.</text>
<text transform="translate(246.38,91.5) rotate(-90)" font-size="4.8" fill="#cdcdcf" text-anchor="end">C</text>
<text transform="translate(250.56,85.7) rotate(-90)" font-size="4.8" fill="#cdcdcf" text-anchor="end">G</text>
<text transform="translate(250.56,89.3) rotate(-90)" font-size="4.8" fill="#cdcdcf" text-anchor="end">.</text>
<text transform="translate(250.56,91.5) rotate(-90)" font-size="4.8" fill="#cdcdcf" text-anchor="end">C</text>
<text transform="translate(254.74,85.7) rotate(-90)" font-size="4.8" fill="#cdcdcf" text-anchor="end">T</text>
<text transform="translate(254.74,89.3) rotate(-90)" font-size="4.8" fill="#cdcdcf" text-anchor="end">.</text>
<text transform="translate(254.74,91.5) rotate(-90)" font-size="4.8" fill="#cdcdcf" text-anchor="end">C</text>
<text transform="translate(258.92,85.7) rotate(-90)" font-size="4.8" fill="#cdcdcf" text-anchor="end">A</text>
<text transform="translate(258.92,89.3) rotate(-90)" font-size="4.8" fill="#cdcdcf" text-anchor="end">.</text>
<text transform="translate(258.92,91.5) rotate(-90)" font-size="4.8" fill="#cdcdcf" text-anchor="end">G</text>
<text transform="translate(263.1,85.7) rotate(-90)" font-size="4.8" fill="#cdcdcf" text-anchor="end">C</text>
<text transform="translate(263.1,89.3) rotate(-90)" font-size="4.8" fill="#cdcdcf" text-anchor="end">.</text>
<text transform="translate(263.1,91.5) rotate(-90)" font-size="4.8" fill="#cdcdcf" text-anchor="end">G</text>
<text transform="translate(267.28,85.7) rotate(-90)" font-size="4.8" fill="#cdcdcf" text-anchor="end">G</text>
<text transform="translate(267.28,89.3) rotate(-90)" font-size="4.8" fill="#cdcdcf" text-anchor="end">.</text>
<text transform="translate(267.28,91.5) rotate(-90)" font-size="4.8" fill="#cdcdcf" text-anchor="end">G</text>
<text transform="translate(271.46,85.7) rotate(-90)" font-size="4.8" fill="#cdcdcf" text-anchor="end">T</text>
<text transform="translate(271.46,89.3) rotate(-90)" font-size="4.8" fill="#cdcdcf" text-anchor="end">.</text>
<text transform="translate(271.46,91.5) rotate(-90)" font-size="4.8" fill="#cdcdcf" text-anchor="end">G</text>
<text transform="translate(275.64,85.7) rotate(-90)" font-size="4.8" fill="#cdcdcf" text-anchor="end">A</text>
<text transform="translate(275.64,89.3) rotate(-90)" font-size="4.8" fill="#cdcdcf" text-anchor="end">.</text>
<text transform="translate(275.64,91.5) rotate(-90)" font-size="4.8" fill="#cdcdcf" text-anchor="end">T</text>
<text transform="translate(279.82,85.7) rotate(-90)" font-size="4.8" fill="#cdcdcf" text-anchor="end">C</text>
<text transform="translate(279.82,89.3) rotate(-90)" font-size="4.8" fill="#cdcdcf" text-anchor="end">.</text>
<text transform="translate(279.82,91.5) rotate(-90)" font-size="4.8" fill="#cdcdcf" text-anchor="end">T</text>
<text transform="translate(284,85.7) rotate(-90)" font-size="4.8" fill="#cdcdcf" text-anchor="end">G</text>
<text transform="translate(284,89.3) rotate(-90)" font-size="4.8" fill="#cdcdcf" text-anchor="end">.</text>
<text transform="translate(284,91.5) rotate(-90)" font-size="4.8" fill="#cdcdcf" text-anchor="end">T</text>
<text transform="translate(288.18,85.7) rotate(-90)" font-size="4.8" fill="#cdcdcf" text-anchor="end">T</text>
<text transform="translate(288.18,89.3) rotate(-90)" font-size="4.8" fill="#cdcdcf" text-anchor="end">.</text>
<text transform="translate(288.18,91.5) rotate(-90)" font-size="4.8" fill="#cdcdcf" text-anchor="end">T</text>
<text transform="translate(292.36,85.7) rotate(-90)" font-size="4.8" fill="#9cc488" text-anchor="end">A</text>
<text transform="translate(292.36,89.3) rotate(-90)" font-size="4.8" fill="#9cc488" text-anchor="end">.</text>
<text transform="translate(292.36,91.5) rotate(-90)" font-size="4.8" fill="#9cc488" text-anchor="end">A</text>
<text transform="translate(296.54,85.7) rotate(-90)" font-size="4.8" fill="#9cc488" text-anchor="end">C</text>
<text transform="translate(296.54,89.3) rotate(-90)" font-size="4.8" fill="#9cc488" text-anchor="end">.</text>
<text transform="translate(296.54,91.5) rotate(-90)" font-size="4.8" fill="#9cc488" text-anchor="end">A</text>
<text transform="translate(300.72,85.7) rotate(-90)" font-size="4.8" fill="#9cc488" text-anchor="end">G</text>
<text transform="translate(300.72,89.3) rotate(-90)" font-size="4.8" fill="#9cc488" text-anchor="end">.</text>
<text transform="translate(300.72,91.5) rotate(-90)" font-size="4.8" fill="#9cc488" text-anchor="end">A</text>
<text transform="translate(304.9,85.7) rotate(-90)" font-size="4.8" fill="#9cc488" text-anchor="end">T</text>
<text transform="translate(304.9,89.3) rotate(-90)" font-size="4.8" fill="#9cc488" text-anchor="end">.</text>
<text transform="translate(304.9,91.5) rotate(-90)" font-size="4.8" fill="#9cc488" text-anchor="end">A</text>
<text transform="translate(309.08,85.7) rotate(-90)" font-size="4.8" fill="#9cc488" text-anchor="end">A</text>
<text transform="translate(309.08,89.3) rotate(-90)" font-size="4.8" fill="#9cc488" text-anchor="end">.</text>
<text transform="translate(309.08,91.5) rotate(-90)" font-size="4.8" fill="#9cc488" text-anchor="end">C</text>
<text transform="translate(313.26,85.7) rotate(-90)" font-size="4.8" fill="#9cc488" text-anchor="end">C</text>
<text transform="translate(313.26,89.3) rotate(-90)" font-size="4.8" fill="#9cc488" text-anchor="end">.</text>
<text transform="translate(313.26,91.5) rotate(-90)" font-size="4.8" fill="#9cc488" text-anchor="end">C</text>
<text transform="translate(317.44,85.7) rotate(-90)" font-size="4.8" fill="#9cc488" text-anchor="end">G</text>
<text transform="translate(317.44,89.3) rotate(-90)" font-size="4.8" fill="#9cc488" text-anchor="end">.</text>
<text transform="translate(317.44,91.5) rotate(-90)" font-size="4.8" fill="#9cc488" text-anchor="end">C</text>
<text transform="translate(321.62,85.7) rotate(-90)" font-size="4.8" fill="#9cc488" text-anchor="end">T</text>
<text transform="translate(321.62,89.3) rotate(-90)" font-size="4.8" fill="#9cc488" text-anchor="end">.</text>
<text transform="translate(321.62,91.5) rotate(-90)" font-size="4.8" fill="#9cc488" text-anchor="end">C</text>
<text transform="translate(325.8,85.7) rotate(-90)" font-size="4.8" fill="#9cc488" text-anchor="end">A</text>
<text transform="translate(325.8,89.3) rotate(-90)" font-size="4.8" fill="#9cc488" text-anchor="end">.</text>
<text transform="translate(325.8,91.5) rotate(-90)" font-size="4.8" fill="#9cc488" text-anchor="end">G</text>
<text transform="translate(329.98,85.7) rotate(-90)" font-size="4.8" fill="#9cc488" text-anchor="end">C</text>
<text transform="translate(329.98,89.3) rotate(-90)" font-size="4.8" fill="#9cc488" text-anchor="end">.</text>
<text transform="translate(329.98,91.5) rotate(-90)" font-size="4.8" fill="#9cc488" text-anchor="end">G</text>
<text transform="translate(334.16,85.7) rotate(-90)" font-size="4.8" fill="#9cc488" text-anchor="end">G</text>
<text transform="translate(334.16,89.3) rotate(-90)" font-size="4.8" fill="#9cc488" text-anchor="end">.</text>
<text transform="translate(334.16,91.5) rotate(-90)" font-size="4.8" fill="#9cc488" text-anchor="end">G</text>
<text transform="translate(338.34,85.7) rotate(-90)" font-size="4.8" fill="#9cc488" text-anchor="end">T</text>
<text transform="translate(338.34,89.3) rotate(-90)" font-size="4.8" fill="#9cc488" text-anchor="end">.</text>
<text transform="translate(338.34,91.5) rotate(-90)" font-size="4.8" fill="#9cc488" text-anchor="end">G</text>
<text transform="translate(342.52,85.7) rotate(-90)" font-size="4.8" fill="#9cc488" text-anchor="end">A</text>
<text transform="translate(342.52,89.3) rotate(-90)" font-size="4.8" fill="#9cc488" text-anchor="end">.</text>
<text transform="translate(342.52,91.5) rotate(-90)" font-size="4.8" fill="#9cc488" text-anchor="end">T</text>
<text transform="translate(346.7,85.7) rotate(-90)" font-size="4.8" fill="#9cc488" text-anchor="end">C</text>
<text transform="translate(346.7,89.3) rotate(-90)" font-size="4.8" fill="#9cc488" text-anchor="end">.</text>
<text transform="translate(346.7,91.5) rotate(-90)" font-size="4.8" fill="#9cc488" text-anchor="end">T</text>
<text transform="translate(350.88,85.7) rotate(-90)" font-size="4.8" fill="#9cc488" text-anchor="end">G</text>
<text transform="translate(350.88,89.3) rotate(-90)" font-size="4.8" fill="#9cc488" text-anchor="end">.</text>
<text transform="translate(350.88,91.5) rotate(-90)" font-size="4.8" fill="#9cc488" text-anchor="end">T</text>
<text transform="translate(355.06,85.7) rotate(-90)" font-size="4.8" fill="#9cc488" text-anchor="end">T</text>
<text transform="translate(355.06,89.3) rotate(-90)" font-size="4.8" fill="#9cc488" text-anchor="end">.</text>
<text transform="translate(355.06,91.5) rotate(-90)" font-size="4.8" fill="#9cc488" text-anchor="end">T</text>
<text transform="translate(359.24,85.7) rotate(-90)" font-size="4.8" fill="#d68ab6" text-anchor="end">A</text>
<text transform="translate(359.24,89.3) rotate(-90)" font-size="4.8" fill="#d68ab6" text-anchor="end">.</text>
<text transform="translate(359.24,91.5) rotate(-90)" font-size="4.8" fill="#d68ab6" text-anchor="end">A</text>
<text transform="translate(363.42,85.7) rotate(-90)" font-size="4.8" fill="#d68ab6" text-anchor="end">C</text>
<text transform="translate(363.42,89.3) rotate(-90)" font-size="4.8" fill="#d68ab6" text-anchor="end">.</text>
<text transform="translate(363.42,91.5) rotate(-90)" font-size="4.8" fill="#d68ab6" text-anchor="end">A</text>
<text transform="translate(367.6,85.7) rotate(-90)" font-size="4.8" fill="#d68ab6" text-anchor="end">G</text>
<text transform="translate(367.6,89.3) rotate(-90)" font-size="4.8" fill="#d68ab6" text-anchor="end">.</text>
<text transform="translate(367.6,91.5) rotate(-90)" font-size="4.8" fill="#d68ab6" text-anchor="end">A</text>
<text transform="translate(371.78,85.7) rotate(-90)" font-size="4.8" fill="#d68ab6" text-anchor="end">T</text>
<text transform="translate(371.78,89.3) rotate(-90)" font-size="4.8" fill="#d68ab6" text-anchor="end">.</text>
<text transform="translate(371.78,91.5) rotate(-90)" font-size="4.8" fill="#d68ab6" text-anchor="end">A</text>
<text transform="translate(375.96,85.7) rotate(-90)" font-size="4.8" fill="#d68ab6" text-anchor="end">A</text>
<text transform="translate(375.96,89.3) rotate(-90)" font-size="4.8" fill="#d68ab6" text-anchor="end">.</text>
<text transform="translate(375.96,91.5) rotate(-90)" font-size="4.8" fill="#d68ab6" text-anchor="end">C</text>
<text transform="translate(380.14,85.7) rotate(-90)" font-size="4.8" fill="#d68ab6" text-anchor="end">C</text>
<text transform="translate(380.14,89.3) rotate(-90)" font-size="4.8" fill="#d68ab6" text-anchor="end">.</text>
<text transform="translate(380.14,91.5) rotate(-90)" font-size="4.8" fill="#d68ab6" text-anchor="end">C</text>
<text transform="translate(384.32,85.7) rotate(-90)" font-size="4.8" fill="#d68ab6" text-anchor="end">G</text>
<text transform="translate(384.32,89.3) rotate(-90)" font-size="4.8" fill="#d68ab6" text-anchor="end">.</text>
<text transform="translate(384.32,91.5) rotate(-90)" font-size="4.8" fill="#d68ab6" text-anchor="end">C</text>
<text transform="translate(388.5,85.7) rotate(-90)" font-size="4.8" fill="#d68ab6" text-anchor="end">T</text>
<text transform="translate(388.5,89.3) rotate(-90)" font-size="4.8" fill="#d68ab6" text-anchor="end">.</text>
<text transform="translate(388.5,91.5) rotate(-90)" font-size="4.8" fill="#d68ab6" text-anchor="end">C</text>
<text transform="translate(392.68,85.7) rotate(-90)" font-size="4.8" fill="#d68ab6" text-anchor="end">A</text>
<text transform="translate(392.68,89.3) rotate(-90)" font-size="4.8" fill="#d68ab6" text-anchor="end">.</text>
<text transform="translate(392.68,91.5) rotate(-90)" font-size="4.8" fill="#d68ab6" text-anchor="end">G</text>
<text transform="translate(396.86,85.7) rotate(-90)" font-size="4.8" fill="#d68ab6" text-anchor="end">C</text>
<text transform="translate(396.86,89.3) rotate(-90)" font-size="4.8" fill="#d68ab6" text-anchor="end">.</text>
<text transform="translate(396.86,91.5) rotate(-90)" font-size="4.8" fill="#d68ab6" text-anchor="end">G</text>
<text transform="translate(401.04,85.7) rotate(-90)" font-size="4.8" fill="#d68ab6" text-anchor="end">G</text>
<text transform="translate(401.04,89.3) rotate(-90)" font-size="4.8" fill="#d68ab6" text-anchor="end">.</text>
<text transform="translate(401.04,91.5) rotate(-90)" font-size="4.8" fill="#d68ab6" text-anchor="end">G</text>
<text transform="translate(405.22,85.7) rotate(-90)" font-size="4.8" fill="#d68ab6" text-anchor="end">T</text>
<text transform="translate(405.22,89.3) rotate(-90)" font-size="4.8" fill="#d68ab6" text-anchor="end">.</text>
<text transform="translate(405.22,91.5) rotate(-90)" font-size="4.8" fill="#d68ab6" text-anchor="end">G</text>
<text transform="translate(409.4,85.7) rotate(-90)" font-size="4.8" fill="#d68ab6" text-anchor="end">A</text>
<text transform="translate(409.4,89.3) rotate(-90)" font-size="4.8" fill="#d68ab6" text-anchor="end">.</text>
<text transform="translate(409.4,91.5) rotate(-90)" font-size="4.8" fill="#d68ab6" text-anchor="end">T</text>
<text transform="translate(413.58,85.7) rotate(-90)" font-size="4.8" fill="#d68ab6" text-anchor="end">C</text>
<text transform="translate(413.58,89.3) rotate(-90)" font-size="4.8" fill="#d68ab6" text-anchor="end">.</text>
<text transform="translate(413.58,91.5) rotate(-90)" font-size="4.8" fill="#d68ab6" text-anchor="end">T</text>
<text transform="translate(417.76,85.7) rotate(-90)" font-size="4.8" fill="#d68ab6" text-anchor="end">G</text>
<text transform="translate(417.76,89.3) rotate(-90)" font-size="4.8" fill="#d68ab6" text-anchor="end">.</text>
<text transform="translate(417.76,91.5) rotate(-90)" font-size="4.8" fill="#d68ab6" text-anchor="end">T</text>
<text transform="translate(421.94,85.7) rotate(-90)" font-size="4.8" fill="#d68ab6" text-anchor="end">T</text>
<text transform="translate(421.94,89.3) rotate(-90)" font-size="4.8" fill="#d68ab6" text-anchor="end">.</text>
<text transform="translate(421.94,91.5) rotate(-90)" font-size="4.8" fill="#d68ab6" text-anchor="end">T</text>
<text x="221.4" y="106" font-size="9.6" fill="#3a3a3a" text-anchor="middle" font-weight="normal" textLength="38.8" lengthAdjust="spacingAndGlyphs">Components</text>
<text x="427.4" y="35.3" font-size="7" fill="#222" text-anchor="start" font-weight="normal" textLength="41.8" lengthAdjust="spacingAndGlyphs">MM Relapse 2</text>
<text x="427.4" y="62.6" font-size="7" fill="#222" text-anchor="start" font-weight="normal" textLength="41.8" lengthAdjust="spacingAndGlyphs">MM Relapse 5</text>
<text x="1" y="130" font-size="11.5" fill="#000" text-anchor="start" font-weight="bold" textLength="6.9" lengthAdjust="spacingAndGlyphs">B</text>
<rect x="27" y="138.3" width="136.4" height="13.2" fill="#bcbbc0"/>
<text x="95.2" y="147.4" font-size="7" fill="#fff" text-anchor="middle" font-weight="normal" textLength="41.8" lengthAdjust="spacingAndGlyphs">MM Relapse 2</text>
<rect x="204.3" y="138.3" width="138.3" height="13.2" fill="#636575"/>
<text x="273.45" y="147.4" font-size="7" fill="#fff" text-anchor="middle" font-weight="normal" textLength="41.8" lengthAdjust="spacingAndGlyphs">MM Relapse 5</text>
<rect x="380" y="138.3" width="137.2" height="13.2" fill="#8aaddf"/>
<text x="448.6" y="147.4" font-size="7" fill="#fff" text-anchor="middle" font-weight="normal" textLength="50.4" lengthAdjust="spacingAndGlyphs">MM Relapse ID 3</text>
<line x1="27" y1="164" x2="27" y2="248.2" stroke="#000" stroke-width="1.2"/>
<line x1="26.5" y1="247.6" x2="76.4" y2="247.6" stroke="#000" stroke-width="1.2"/>
<line x1="24" y1="244" x2="27" y2="244" stroke="#111" stroke-width="0.9"/>
<line x1="24" y1="230.05" x2="27" y2="230.05" stroke="#111" stroke-width="0.9"/>
<line x1="24" y1="216.1" x2="27" y2="216.1" stroke="#111" stroke-width="0.9"/>
<line x1="24" y1="202.15" x2="27" y2="202.15" stroke="#111" stroke-width="0.9"/>
<line x1="24" y1="188.2" x2="27" y2="188.2" stroke="#111" stroke-width="0.9"/>
<line x1="24" y1="174.25" x2="27" y2="174.25" stroke="#111" stroke-width="0.9"/>
<text x="20.7" y="246.4" font-size="6.8" fill="#333" text-anchor="end" font-weight="normal">0.0</text>
<text x="20.7" y="232.45" font-size="6.8" fill="#333" text-anchor="end" font-weight="normal">0.1</text>
<text x="20.7" y="218.5" font-size="6.8" fill="#333" text-anchor="end" font-weight="normal">0.2</text>
<text x="20.7" y="204.55" font-size="6.8" fill="#333" text-anchor="end" font-weight="normal">0.3</text>
<text x="20.7" y="190.6" font-size="6.8" fill="#333" text-anchor="end" font-weight="normal">0.4</text>
<text x="20.7" y="176.65" font-size="6.8" fill="#333" text-anchor="end" font-weight="normal">0.5</text>
<line x1="40" y1="247.6" x2="40" y2="250.4" stroke="#111" stroke-width="1"/>
<line x1="64.2" y1="247.6" x2="64.2" y2="250.4" stroke="#111" stroke-width="1"/>
<text transform="translate(7.9,203.7) rotate(-90)" font-size="9" fill="#333" text-anchor="middle" textLength="68" lengthAdjust="spacingAndGlyphs">Normalized exposure</text>
<text x="32.3" y="171.8" font-size="6.1" fill="#474440" text-anchor="start" font-weight="normal" textLength="40.5" lengthAdjust="spacingAndGlyphs">FDR = 7.16e-06</text>
<text transform="translate(43.6,257.6) rotate(-45)" font-size="7.4" fill="#333" text-anchor="end" textLength="32" lengthAdjust="spacingAndGlyphs">RVD Alone</text>
<text transform="translate(67.8,257.6) rotate(-45)" font-size="7.4" fill="#333" text-anchor="end" textLength="37" lengthAdjust="spacingAndGlyphs">RVD + HDM</text>
<line x1="40.2" y1="240.1" x2="40.2" y2="234.5" stroke="#222" stroke-width="1.1" stroke-dasharray="2.9,2.5"/>
<line x1="35.2" y1="234.5" x2="45.2" y2="234.5" stroke="#222" stroke-width="0.9"/>
<line x1="40.2" y1="243.2" x2="40.2" y2="244.5" stroke="#222" stroke-width="1.1" stroke-dasharray="2.9,2.5"/>
<line x1="35.2" y1="244.5" x2="45.2" y2="244.5" stroke="#222" stroke-width="0.9"/>
<rect x="32.6" y="240.1" width="15.2" height="3.1" fill="#243468" stroke="#111b45" stroke-width="0.5"/>
<line x1="32.6" y1="241.8" x2="47.8" y2="241.8" stroke="#111b45" stroke-width="0.9"/>
<line x1="40.2" y1="229.5" x2="40.2" y2="234.5" stroke="#111" stroke-width="1.5"/>
<line x1="64.2" y1="193.8" x2="64.2" y2="166.5" stroke="#222" stroke-width="1.1" stroke-dasharray="2.9,2.5"/>
<line x1="59.4" y1="166.5" x2="69" y2="166.5" stroke="#222" stroke-width="0.9"/>
<line x1="64.2" y1="230.8" x2="64.2" y2="244.2" stroke="#222" stroke-width="1.1" stroke-dasharray="2.9,2.5"/>
<line x1="59.4" y1="244.2" x2="69" y2="244.2" stroke="#222" stroke-width="0.9"/>
<rect x="56.2" y="193.8" width="16" height="37" fill="#a3172c" stroke="#5e0a16" stroke-width="0.5"/>
<line x1="56.2" y1="210.1" x2="72.2" y2="210.1" stroke="#5e0a16" stroke-width="0.9"/>
<line x1="113.2" y1="163.3" x2="113.2" y2="248.2" stroke="#000" stroke-width="1.2"/>
<line x1="112.7" y1="247.6" x2="161" y2="247.6" stroke="#000" stroke-width="1.2"/>
<line x1="110.2" y1="244.5" x2="113.2" y2="244.5" stroke="#111" stroke-width="0.9"/>
<line x1="110.2" y1="233.15" x2="113.2" y2="233.15" stroke="#111" stroke-width="0.9"/>
<line x1="110.2" y1="221.8" x2="113.2" y2="221.8" stroke="#111" stroke-width="0.9"/>
<line x1="110.2" y1="210.45" x2="113.2" y2="210.45" stroke="#111" stroke-width="0.9"/>
<line x1="110.2" y1="199.1" x2="113.2" y2="199.1" stroke="#111" stroke-width="0.9"/>
<line x1="110.2" y1="187.75" x2="113.2" y2="187.75" stroke="#111" stroke-width="0.9"/>
<line x1="110.2" y1="176.4" x2="113.2" y2="176.4" stroke="#111" stroke-width="0.9"/>
<line x1="110.2" y1="165.05" x2="113.2" y2="165.05" stroke="#111" stroke-width="0.9"/>
<text x="106.9" y="246.9" font-size="6.8" fill="#333" text-anchor="end" font-weight="normal">0</text>
<text x="106.9" y="235.55" font-size="6.8" fill="#333" text-anchor="end" font-weight="normal">1000</text>
<text x="106.9" y="212.85" font-size="6.8" fill="#333" text-anchor="end" font-weight="normal">3000</text>
<text x="106.9" y="190.15" font-size="6.8" fill="#333" text-anchor="end" font-weight="normal">5000</text>
<text x="106.9" y="167.45" font-size="6.8" fill="#333" text-anchor="end" font-weight="normal">7000</text>
<line x1="126.1" y1="247.6" x2="126.1" y2="250.4" stroke="#111" stroke-width="1"/>
<line x1="150.1" y1="247.6" x2="150.1" y2="250.4" stroke="#111" stroke-width="1"/>
<text transform="translate(88.1,205.5) rotate(-90)" font-size="9" fill="#333" text-anchor="middle" textLength="57" lengthAdjust="spacingAndGlyphs">Absolute exposure</text>
<text x="120" y="171" font-size="6.1" fill="#474440" text-anchor="start" font-weight="normal" textLength="40.5" lengthAdjust="spacingAndGlyphs">FDR = 3.41e-06</text>
<text transform="translate(129.7,257.6) rotate(-45)" font-size="7.4" fill="#333" text-anchor="end" textLength="32" lengthAdjust="spacingAndGlyphs">RVD Alone</text>
<text transform="translate(153.7,257.6) rotate(-45)" font-size="7.4" fill="#333" text-anchor="end" textLength="37" lengthAdjust="spacingAndGlyphs">RVD + HDM</text>
<line x1="126.1" y1="242.6" x2="126.1" y2="240.4" stroke="#222" stroke-width="1.1" stroke-dasharray="2.9,2.5"/>
<line x1="122.5" y1="240.4" x2="129.7" y2="240.4" stroke="#222" stroke-width="0.9"/>
<line x1="126.1" y1="244.5" x2="126.1" y2="244.6" stroke="#222" stroke-width="1.1" stroke-dasharray="2.9,2.5"/>
<line x1="122.5" y1="244.6" x2="129.7" y2="244.6" stroke="#222" stroke-width="0.9"/>
<rect x="118.6" y="242.6" width="15" height="1.9" fill="#243468" stroke="#111b45" stroke-width="0.5"/>
<line x1="118.6" y1="243.6" x2="133.6" y2="243.6" stroke="#111b45" stroke-width="0.9"/>
<ellipse cx="126.1" cy="238.6" rx="0.85" ry="1.35" fill="#111"/>
<line x1="150.1" y1="211.9" x2="150.1" y2="184.7" stroke="#222" stroke-width="1.1" stroke-dasharray="2.9,2.5"/>
<line x1="145.3" y1="184.7" x2="154.9" y2="184.7" stroke="#222" stroke-width="0.9"/>
<line x1="150.1" y1="240.8" x2="150.1" y2="244.2" stroke="#222" stroke-width="1.1" stroke-dasharray="2.9,2.5"/>
<line x1="145.3" y1="244.2" x2="154.9" y2="244.2" stroke="#222" stroke-width="0.9"/>
<rect x="142.4" y="211.9" width="15.4" height="28.9" fill="#a3172c" stroke="#5e0a16" stroke-width="0.5"/>
<line x1="142.4" y1="230" x2="157.8" y2="230" stroke="#5e0a16" stroke-width="0.9"/>
<ellipse cx="150.1" cy="166.4" rx="0.85" ry="1.35" fill="#111"/>
<line x1="204.7" y1="164" x2="204.7" y2="248.2" stroke="#000" stroke-width="1.2"/>
<line x1="204.2" y1="247.6" x2="248.7" y2="247.6" stroke="#000" stroke-width="1.2"/>
<line x1="201.7" y1="244.4" x2="204.7" y2="244.4" stroke="#111" stroke-width="0.9"/>
<line x1="201.7" y1="232.37" x2="204.7" y2="232.37" stroke="#111" stroke-width="0.9"/>
<line x1="201.7" y1="220.33" x2="204.7" y2="220.33" stroke="#111" stroke-width="0.9"/>
<line x1="201.7" y1="208.3" x2="204.7" y2="208.3" stroke="#111" stroke-width="0.9"/>
<line x1="201.7" y1="196.26" x2="204.7" y2="196.26" stroke="#111" stroke-width="0.9"/>
<line x1="201.7" y1="184.23" x2="204.7" y2="184.23" stroke="#111" stroke-width="0.9"/>
<line x1="201.7" y1="172.19" x2="204.7" y2="172.19" stroke="#111" stroke-width="0.9"/>
<text x="198.4" y="246.8" font-size="6.8" fill="#333" text-anchor="end" font-weight="normal">0.00</text>
<text x="198.4" y="222.73" font-size="6.8" fill="#333" text-anchor="end" font-weight="normal">0.10</text>
<text x="198.4" y="198.66" font-size="6.8" fill="#333" text-anchor="end" font-weight="normal">0.20</text>
<text x="198.4" y="174.59" font-size="6.8" fill="#333" text-anchor="end" font-weight="normal">0.30</text>
<line x1="217.2" y1="247.6" x2="217.2" y2="250.4" stroke="#111" stroke-width="1"/>
<line x1="241.5" y1="247.6" x2="241.5" y2="250.4" stroke="#111" stroke-width="1"/>
<text transform="translate(181,205) rotate(-90)" font-size="9" fill="#333" text-anchor="middle" textLength="65.5" lengthAdjust="spacingAndGlyphs">Normalized exposure</text>
<text x="210.6" y="171.4" font-size="6.1" fill="#474440" text-anchor="start" font-weight="normal" textLength="38.6" lengthAdjust="spacingAndGlyphs">FDR = 1.17e-03</text>
<text transform="translate(220.8,257.6) rotate(-45)" font-size="7.4" fill="#333" text-anchor="end" textLength="32" lengthAdjust="spacingAndGlyphs">RVD Alone</text>
<text transform="translate(245.1,257.6) rotate(-45)" font-size="7.4" fill="#333" text-anchor="end" textLength="37" lengthAdjust="spacingAndGlyphs">RVD + HDM</text>
<line x1="217.2" y1="224.2" x2="217.2" y2="213.5" stroke="#222" stroke-width="1.1" stroke-dasharray="2.9,2.5"/>
<line x1="212.4" y1="213.5" x2="222" y2="213.5" stroke="#222" stroke-width="0.9"/>
<line x1="217.2" y1="238.8" x2="217.2" y2="244.4" stroke="#222" stroke-width="1.1" stroke-dasharray="2.9,2.5"/>
<line x1="212.4" y1="244.4" x2="222" y2="244.4" stroke="#222" stroke-width="0.9"/>
<rect x="209.4" y="224.2" width="15.6" height="14.6" fill="#243468" stroke="#111b45" stroke-width="0.5"/>
<line x1="209.4" y1="234.6" x2="225" y2="234.6" stroke="#111b45" stroke-width="0.9"/>
<ellipse cx="217.2" cy="197.5" rx="0.85" ry="1.35" fill="#111"/>
<line x1="241.8" y1="197.2" x2="241.8" y2="165.6" stroke="#222" stroke-width="1.1" stroke-dasharray="2.9,2.5"/>
<line x1="237" y1="165.6" x2="246.6" y2="165.6" stroke="#222" stroke-width="0.9"/>
<line x1="241.8" y1="235.7" x2="241.8" y2="244.4" stroke="#222" stroke-width="1.1" stroke-dasharray="2.9,2.5"/>
<line x1="237" y1="244.4" x2="246.6" y2="244.4" stroke="#222" stroke-width="0.9"/>
<rect x="233.7" y="197.2" width="16.2" height="38.5" fill="#a3172c" stroke="#5e0a16" stroke-width="0.5"/>
<line x1="233.7" y1="207" x2="249.9" y2="207" stroke="#5e0a16" stroke-width="0.9"/>
<line x1="292.4" y1="164" x2="292.4" y2="248.2" stroke="#000" stroke-width="1.2"/>
<line x1="291.9" y1="247.6" x2="341.2" y2="247.6" stroke="#000" stroke-width="1.2"/>
<line x1="289.4" y1="244.4" x2="292.4" y2="244.4" stroke="#111" stroke-width="0.9"/>
<line x1="289.4" y1="230.65" x2="292.4" y2="230.65" stroke="#111" stroke-width="0.9"/>
<line x1="289.4" y1="216.9" x2="292.4" y2="216.9" stroke="#111" stroke-width="0.9"/>
<line x1="289.4" y1="203.15" x2="292.4" y2="203.15" stroke="#111" stroke-width="0.9"/>
<line x1="289.4" y1="189.4" x2="292.4" y2="189.4" stroke="#111" stroke-width="0.9"/>
<line x1="289.4" y1="175.65" x2="292.4" y2="175.65" stroke="#111" stroke-width="0.9"/>
<text x="286.1" y="246.8" font-size="6.8" fill="#333" text-anchor="end" font-weight="normal">0</text>
<text x="286.1" y="219.3" font-size="6.8" fill="#333" text-anchor="end" font-weight="normal">2000</text>
<text x="286.1" y="191.8" font-size="6.8" fill="#333" text-anchor="end" font-weight="normal">4000</text>
<line x1="305.5" y1="247.6" x2="305.5" y2="250.4" stroke="#111" stroke-width="1"/>
<line x1="329" y1="247.6" x2="329" y2="250.4" stroke="#111" stroke-width="1"/>
<text transform="translate(266.1,206.8) rotate(-90)" font-size="9" fill="#333" text-anchor="middle" textLength="56.5" lengthAdjust="spacingAndGlyphs">Absolute exposure</text>
<text x="299.7" y="172.7" font-size="6.1" fill="#474440" text-anchor="start" font-weight="normal" textLength="40.3" lengthAdjust="spacingAndGlyphs">FDR = 6.85e-05</text>
<text transform="translate(309.1,257.6) rotate(-45)" font-size="7.4" fill="#333" text-anchor="end" textLength="32" lengthAdjust="spacingAndGlyphs">RVD Alone</text>
<text transform="translate(332.6,257.6) rotate(-45)" font-size="7.4" fill="#333" text-anchor="end" textLength="37" lengthAdjust="spacingAndGlyphs">RVD + HDM</text>
<line x1="305.7" y1="240" x2="305.7" y2="235.7" stroke="#222" stroke-width="1.1" stroke-dasharray="2.9,2.5"/>
<line x1="301.1" y1="235.7" x2="310.3" y2="235.7" stroke="#222" stroke-width="0.9"/>
<line x1="305.7" y1="244.2" x2="305.7" y2="244.5" stroke="#222" stroke-width="1.1" stroke-dasharray="2.9,2.5"/>
<line x1="301.1" y1="244.5" x2="310.3" y2="244.5" stroke="#222" stroke-width="0.9"/>
<rect x="298.1" y="240" width="15.2" height="4.2" fill="#243468" stroke="#111b45" stroke-width="0.5"/>
<line x1="298.1" y1="242.3" x2="313.3" y2="242.3" stroke="#111b45" stroke-width="0.9"/>
<line x1="329.4" y1="224.3" x2="329.4" y2="216.5" stroke="#222" stroke-width="1.1" stroke-dasharray="2.9,2.5"/>
<line x1="324.8" y1="216.5" x2="334" y2="216.5" stroke="#222" stroke-width="0.9"/>
<line x1="329.4" y1="238.8" x2="329.4" y2="244.4" stroke="#222" stroke-width="1.1" stroke-dasharray="2.9,2.5"/>
<line x1="324.8" y1="244.4" x2="334" y2="244.4" stroke="#222" stroke-width="0.9"/>
<rect x="321.3" y="224.3" width="16.2" height="14.5" fill="#a3172c" stroke="#5e0a16" stroke-width="0.5"/>
<line x1="321.3" y1="230.8" x2="337.5" y2="230.8" stroke="#5e0a16" stroke-width="0.9"/>
<ellipse cx="329.4" cy="166.4" rx="0.85" ry="1.35" fill="#111"/>
<ellipse cx="329.4" cy="174.4" rx="0.85" ry="1.35" fill="#111"/>
<ellipse cx="329.4" cy="189" rx="0.85" ry="1.35" fill="#111"/>
<ellipse cx="329.4" cy="197.5" rx="0.85" ry="1.35" fill="#111"/>
<line x1="380.2" y1="164.7" x2="380.2" y2="248.2" stroke="#000" stroke-width="1.2"/>
<line x1="379.7" y1="247.6" x2="428.6" y2="247.6" stroke="#000" stroke-width="1.2"/>
<line x1="377.2" y1="244.4" x2="380.2" y2="244.4" stroke="#111" stroke-width="0.9"/>
<line x1="377.2" y1="223.43" x2="380.2" y2="223.43" stroke="#111" stroke-width="0.9"/>
<line x1="377.2" y1="202.46" x2="380.2" y2="202.46" stroke="#111" stroke-width="0.9"/>
<line x1="377.2" y1="181.49" x2="380.2" y2="181.49" stroke="#111" stroke-width="0.9"/>
<text x="373.9" y="246.8" font-size="6.8" fill="#333" text-anchor="end" font-weight="normal">0.0</text>
<text x="373.9" y="225.83" font-size="6.8" fill="#333" text-anchor="end" font-weight="normal">0.1</text>
<text x="373.9" y="204.86" font-size="6.8" fill="#333" text-anchor="end" font-weight="normal">0.2</text>
<text x="373.9" y="183.89" font-size="6.8" fill="#333" text-anchor="end" font-weight="normal">0.3</text>
<line x1="393.9" y1="247.6" x2="393.9" y2="250.4" stroke="#111" stroke-width="1"/>
<line x1="418.2" y1="247.6" x2="418.2" y2="250.4" stroke="#111" stroke-width="1"/>
<text transform="translate(360,202.5) rotate(-90)" font-size="9" fill="#333" text-anchor="middle" textLength="58.3" lengthAdjust="spacingAndGlyphs">Normalized exposure</text>
<text x="383.1" y="172.7" font-size="6.1" fill="#474440" text-anchor="start" font-weight="normal" textLength="24.2" lengthAdjust="spacingAndGlyphs">FDR = 0.1</text>
<text transform="translate(397.5,257.6) rotate(-45)" font-size="7.4" fill="#333" text-anchor="end" textLength="32" lengthAdjust="spacingAndGlyphs">RVD Alone</text>
<text transform="translate(421.8,257.6) rotate(-45)" font-size="7.4" fill="#333" text-anchor="end" textLength="37" lengthAdjust="spacingAndGlyphs">RVD + HDM</text>
<line x1="394" y1="228.6" x2="394" y2="214.4" stroke="#222" stroke-width="1.1" stroke-dasharray="2.9,2.5"/>
<line x1="388.8" y1="214.4" x2="399.2" y2="214.4" stroke="#222" stroke-width="0.9"/>
<line x1="394" y1="238.3" x2="394" y2="244.4" stroke="#222" stroke-width="1.1" stroke-dasharray="2.9,2.5"/>
<line x1="388.8" y1="244.4" x2="399.2" y2="244.4" stroke="#222" stroke-width="0.9"/>
<rect x="386.1" y="228.6" width="15.8" height="9.7" fill="#243468" stroke="#111b45" stroke-width="0.5"/>
<line x1="386.1" y1="234" x2="401.9" y2="234" stroke="#111b45" stroke-width="0.9"/>
<ellipse cx="394" cy="166.4" rx="0.85" ry="1.35" fill="#111"/>
<line x1="394" y1="199.6" x2="394" y2="204.3" stroke="#111" stroke-width="1.5"/>
<line x1="418.3" y1="205.5" x2="418.3" y2="171.3" stroke="#222" stroke-width="1.1" stroke-dasharray="2.9,2.5"/>
<line x1="413.3" y1="171.3" x2="423.3" y2="171.3" stroke="#222" stroke-width="0.9"/>
<line x1="418.3" y1="236.9" x2="418.3" y2="243" stroke="#222" stroke-width="1.1" stroke-dasharray="2.9,2.5"/>
<line x1="413.3" y1="243" x2="423.3" y2="243" stroke="#222" stroke-width="0.9"/>
<rect x="410.4" y="205.5" width="15.8" height="31.4" fill="#a3172c" stroke="#5e0a16" stroke-width="0.5"/>
<line x1="410.4" y1="223.1" x2="426.2" y2="223.1" stroke="#5e0a16" stroke-width="0.9"/>
<line x1="465.4" y1="164.7" x2="465.4" y2="248.2" stroke="#000" stroke-width="1.2"/>
<line x1="464.9" y1="247.6" x2="512.3" y2="247.6" stroke="#000" stroke-width="1.2"/>
<line x1="462.4" y1="244.5" x2="465.4" y2="244.5" stroke="#111" stroke-width="0.9"/>
<line x1="462.4" y1="231.72" x2="465.4" y2="231.72" stroke="#111" stroke-width="0.9"/>
<line x1="462.4" y1="218.95" x2="465.4" y2="218.95" stroke="#111" stroke-width="0.9"/>
<line x1="462.4" y1="206.18" x2="465.4" y2="206.18" stroke="#111" stroke-width="0.9"/>
<line x1="462.4" y1="193.4" x2="465.4" y2="193.4" stroke="#111" stroke-width="0.9"/>
<line x1="462.4" y1="180.62" x2="465.4" y2="180.62" stroke="#111" stroke-width="0.9"/>
<line x1="462.4" y1="167.85" x2="465.4" y2="167.85" stroke="#111" stroke-width="0.9"/>
<text x="459.1" y="246.9" font-size="6.8" fill="#333" text-anchor="end" font-weight="normal">0</text>
<text x="459.1" y="221.35" font-size="6.8" fill="#333" text-anchor="end" font-weight="normal">100</text>
<text x="459.1" y="195.8" font-size="6.8" fill="#333" text-anchor="end" font-weight="normal">200</text>
<text x="459.1" y="170.25" font-size="6.8" fill="#333" text-anchor="end" font-weight="normal">300</text>
<line x1="478.8" y1="247.6" x2="478.8" y2="250.4" stroke="#111" stroke-width="1"/>
<line x1="503" y1="247.6" x2="503" y2="250.4" stroke="#111" stroke-width="1"/>
<text transform="translate(442.6,205.5) rotate(-90)" font-size="9" fill="#333" text-anchor="middle" textLength="57" lengthAdjust="spacingAndGlyphs">Absolute exposure</text>
<text x="468.1" y="171.9" font-size="6.1" fill="#474440" text-anchor="start" font-weight="normal" textLength="33.2" lengthAdjust="spacingAndGlyphs">FDR = 0.0016</text>
<text transform="translate(482.4,257.6) rotate(-45)" font-size="7.4" fill="#333" text-anchor="end" textLength="32" lengthAdjust="spacingAndGlyphs">RVD Alone</text>
<text transform="translate(506.6,257.6) rotate(-45)" font-size="7.4" fill="#333" text-anchor="end" textLength="37" lengthAdjust="spacingAndGlyphs">RVD + HDM</text>
<line x1="479.2" y1="237.6" x2="479.2" y2="230.8" stroke="#222" stroke-width="1.1" stroke-dasharray="2.9,2.5"/>
<line x1="475" y1="230.8" x2="483.4" y2="230.8" stroke="#222" stroke-width="0.9"/>
<line x1="479.2" y1="242.4" x2="479.2" y2="244.4" stroke="#222" stroke-width="1.1" stroke-dasharray="2.9,2.5"/>
<line x1="475" y1="244.4" x2="483.4" y2="244.4" stroke="#222" stroke-width="0.9"/>
<rect x="471" y="237.6" width="16.4" height="4.8" fill="#243468" stroke="#111b45" stroke-width="0.5"/>
<line x1="471" y1="239.5" x2="487.4" y2="239.5" stroke="#111b45" stroke-width="0.9"/>
<line x1="479.2" y1="221" x2="479.2" y2="225" stroke="#111" stroke-width="1.5"/>
<ellipse cx="479.2" cy="180.9" rx="0.85" ry="1.35" fill="#111"/>
<line x1="503.5" y1="225.4" x2="503.5" y2="207.5" stroke="#222" stroke-width="1.1" stroke-dasharray="2.9,2.5"/>
<line x1="498.7" y1="207.5" x2="508.3" y2="207.5" stroke="#222" stroke-width="0.9"/>
<line x1="503.5" y1="238.8" x2="503.5" y2="244.4" stroke="#222" stroke-width="1.1" stroke-dasharray="2.9,2.5"/>
<line x1="498.7" y1="244.4" x2="508.3" y2="244.4" stroke="#222" stroke-width="0.9"/>
<rect x="495.3" y="225.4" width="16.4" height="13.4" fill="#a3172c" stroke="#5e0a16" stroke-width="0.5"/>
<line x1="495.3" y1="229.1" x2="511.7" y2="229.1" stroke="#5e0a16" stroke-width="0.9"/>
<ellipse cx="503.5" cy="166.8" rx="0.85" ry="1.35" fill="#111"/>
<ellipse cx="503.5" cy="200.3" rx="0.85" ry="1.35" fill="#111"/>
<text x="0.5" y="305.1" font-size="12.2" fill="#000" text-anchor="start" font-weight="bold" textLength="7.6" lengthAdjust="spacingAndGlyphs">C</text>
<rect x="21" y="311.1" width="30.61" height="8.9" fill="#dfbb7f"/>
<text x="36.3" y="317.8" font-size="6.4" fill="#fff" text-anchor="middle" font-weight="normal">1:D:C</text>
<rect x="53.01" y="311.1" width="30.61" height="8.9" fill="#cc7a29"/>
<text x="68.31" y="317.8" font-size="6.4" fill="#fff" text-anchor="middle" font-weight="normal">1:D:T</text>
<rect x="85.02" y="311.1" width="30.61" height="8.9" fill="#b3d69c"/>
<text x="100.32" y="317.8" font-size="6.4" fill="#fff" text-anchor="middle" font-weight="normal">1:I:C</text>
<rect x="117.03" y="311.1" width="30.61" height="8.9" fill="#5d9f3f"/>
<text x="132.34" y="317.8" font-size="6.4" fill="#fff" text-anchor="middle" font-weight="normal">1:I:T</text>
<rect x="149.04" y="311.1" width="30.61" height="8.9" fill="#dba4cc"/>
<text x="164.34" y="317.8" font-size="6.4" fill="#fff" text-anchor="middle" font-weight="normal">2:D:R</text>
<rect x="181.05" y="311.1" width="30.61" height="8.9" fill="#a9186f"/>
<text x="196.36" y="317.8" font-size="6.4" fill="#fff" text-anchor="middle" font-weight="normal">3:D:R</text>
<rect x="213.06" y="311.1" width="30.61" height="8.9" fill="#c49189"/>
<text x="228.37" y="317.8" font-size="6.4" fill="#fff" text-anchor="middle" font-weight="normal">4:D:R</text>
<rect x="245.07" y="311.1" width="30.61" height="8.9" fill="#8f1a27"/>
<text x="260.38" y="317.8" font-size="6.4" fill="#fff" text-anchor="middle" font-weight="normal">5:D:R</text>
<rect x="277.08" y="311.1" width="30.61" height="8.9" fill="#b8ccf0"/>
<text x="292.38" y="317.8" font-size="6.4" fill="#fff" text-anchor="middle" font-weight="normal">2:I:R</text>
<rect x="309.09" y="311.1" width="30.61" height="8.9" fill="#6b99d9"/>
<text x="324.39" y="317.8" font-size="6.4" fill="#fff" text-anchor="middle" font-weight="normal">3:I:R</text>
<rect x="341.1" y="311.1" width="30.61" height="8.9" fill="#8d90b1"/>
<text x="356.41" y="317.8" font-size="6.4" fill="#fff" text-anchor="middle" font-weight="normal">4:I:R</text>
<rect x="373.11" y="311.1" width="30.61" height="8.9" fill="#253565"/>
<text x="388.42" y="317.8" font-size="6.4" fill="#fff" text-anchor="middle" font-weight="normal">5:I:R</text>
<rect x="405.12" y="311.1" width="3.94" height="8.9" fill="#d9d5ef"/>
<rect x="410.45" y="311.1" width="9.27" height="8.9" fill="#9d8dc5"/>
<text x="415.09" y="317.8" font-size="6.4" fill="#fff" text-anchor="middle" font-weight="normal">3</text>
<rect x="421.12" y="311.1" width="14.6" height="8.9" fill="#9b8ba9"/>
<text x="428.43" y="317.8" font-size="6.4" fill="#fff" text-anchor="middle" font-weight="normal">4</text>
<rect x="437.13" y="311.1" width="25.28" height="8.9" fill="#4b1f5b"/>
<text x="449.77" y="317.8" font-size="6.4" fill="#fff" text-anchor="middle" font-weight="normal">5:D:M</text>
<rect x="22.57" y="324.6" width="2.2" height="21.8" fill="#dfbb7f"/>
<rect x="27.9" y="332.5" width="2.2" height="13.9" fill="#dfbb7f"/>
<rect x="33.24" y="340" width="2.2" height="6.4" fill="#dfbb7f"/>
<rect x="54.58" y="333.2" width="2.2" height="13.2" fill="#cc7a29"/>
<rect x="59.91" y="335.7" width="2.2" height="10.7" fill="#cc7a29"/>
<rect x="65.25" y="342" width="2.2" height="4.4" fill="#cc7a29"/>
<rect x="70.58" y="343.1" width="2.2" height="3.3" fill="#cc7a29"/>
<rect x="75.92" y="344.7" width="2.2" height="1.7" fill="#cc7a29"/>
<rect x="81.25" y="344" width="2.2" height="2.4" fill="#cc7a29"/>
<rect x="86.59" y="344.5" width="2.2" height="1.9" fill="#b3d69c"/>
<rect x="118.6" y="338.5" width="2.2" height="7.9" fill="#5d9f3f"/>
<rect x="123.93" y="343.1" width="2.2" height="3.3" fill="#5d9f3f"/>
<rect x="182.62" y="345" width="2.2" height="1.4" fill="#a9186f"/>
<rect x="246.64" y="326.9" width="2.2" height="19.5" fill="#8f1a27"/>
<rect x="438.7" y="332" width="2.2" height="14.4" fill="#4b1f5b"/>
<rect x="444.03" y="336.3" width="2.2" height="10.1" fill="#4b1f5b"/>
<rect x="449.37" y="343.8" width="2.2" height="2.6" fill="#4b1f5b"/>
<line x1="20.8" y1="323.7" x2="20.8" y2="347.4" stroke="#111" stroke-width="1.1"/>
<line x1="20.3" y1="346.9" x2="463.8" y2="346.9" stroke="#111" stroke-width="1"/>
<line x1="17.8" y1="329.4" x2="20.8" y2="329.4" stroke="#111" stroke-width="0.9"/>
<line x1="17.8" y1="337.6" x2="20.8" y2="337.6" stroke="#111" stroke-width="0.9"/>
<line x1="17.8" y1="345.7" x2="20.8" y2="345.7" stroke="#111" stroke-width="0.9"/>
<text x="14.2" y="331.5" font-size="6.4" fill="#333" text-anchor="end" font-weight="normal" textLength="12.2" lengthAdjust="spacingAndGlyphs">0.10</text>
<text x="14.2" y="347.8" font-size="6.4" fill="#333" text-anchor="end" font-weight="normal" textLength="12.2" lengthAdjust="spacingAndGlyphs">0.00</text>
<line x1="23.67" y1="347.3" x2="23.67" y2="349.7" stroke="#111" stroke-width="1"/>
<line x1="29" y1="347.3" x2="29" y2="349.7" stroke="#111" stroke-width="1"/>
<line x1="34.34" y1="347.3" x2="34.34" y2="349.7" stroke="#111" stroke-width="1"/>
<line x1="39.67" y1="347.3" x2="39.67" y2="349.7" stroke="#111" stroke-width="1"/>
<line x1="45.01" y1="347.3" x2="45.01" y2="349.7" stroke="#111" stroke-width="1"/>
<line x1="50.34" y1="347.3" x2="50.34" y2="349.7" stroke="#111" stroke-width="1"/>
<line x1="55.68" y1="347.3" x2="55.68" y2="349.7" stroke="#111" stroke-width="1"/>
<line x1="61.01" y1="347.3" x2="61.01" y2="349.7" stroke="#111" stroke-width="1"/>
<line x1="66.35" y1="347.3" x2="66.35" y2="349.7" stroke="#111" stroke-width="1"/>
<line x1="71.68" y1="347.3" x2="71.68" y2="349.7" stroke="#111" stroke-width="1"/>
<line x1="77.02" y1="347.3" x2="77.02" y2="349.7" stroke="#111" stroke-width="1"/>
<line x1="82.35" y1="347.3" x2="82.35" y2="349.7" stroke="#111" stroke-width="1"/>
<line x1="87.69" y1="347.3" x2="87.69" y2="349.7" stroke="#111" stroke-width="1"/>
<line x1="93.02" y1="347.3" x2="93.02" y2="349.7" stroke="#111" stroke-width="1"/>
<line x1="98.36" y1="347.3" x2="98.36" y2="349.7" stroke="#111" stroke-width="1"/>
<line x1="103.69" y1="347.3" x2="103.69" y2="349.7" stroke="#111" stroke-width="1"/>
<line x1="109.03" y1="347.3" x2="109.03" y2="349.7" stroke="#111" stroke-width="1"/>
<line x1="114.36" y1="347.3" x2="114.36" y2="349.7" stroke="#111" stroke-width="1"/>
<line x1="119.7" y1="347.3" x2="119.7" y2="349.7" stroke="#111" stroke-width="1"/>
<line x1="125.03" y1="347.3" x2="125.03" y2="349.7" stroke="#111" stroke-width="1"/>
<line x1="130.37" y1="347.3" x2="130.37" y2="349.7" stroke="#111" stroke-width="1"/>
<line x1="135.7" y1="347.3" x2="135.7" y2="349.7" stroke="#111" stroke-width="1"/>
<line x1="141.04" y1="347.3" x2="141.04" y2="349.7" stroke="#111" stroke-width="1"/>
<line x1="146.37" y1="347.3" x2="146.37" y2="349.7" stroke="#111" stroke-width="1"/>
<line x1="151.71" y1="347.3" x2="151.71" y2="349.7" stroke="#111" stroke-width="1"/>
<line x1="157.04" y1="347.3" x2="157.04" y2="349.7" stroke="#111" stroke-width="1"/>
<line x1="162.38" y1="347.3" x2="162.38" y2="349.7" stroke="#111" stroke-width="1"/>
<line x1="167.71" y1="347.3" x2="167.71" y2="349.7" stroke="#111" stroke-width="1"/>
<line x1="173.05" y1="347.3" x2="173.05" y2="349.7" stroke="#111" stroke-width="1"/>
<line x1="178.38" y1="347.3" x2="178.38" y2="349.7" stroke="#111" stroke-width="1"/>
<line x1="183.72" y1="347.3" x2="183.72" y2="349.7" stroke="#111" stroke-width="1"/>
<line x1="189.05" y1="347.3" x2="189.05" y2="349.7" stroke="#111" stroke-width="1"/>
<line x1="194.39" y1="347.3" x2="194.39" y2="349.7" stroke="#111" stroke-width="1"/>
<line x1="199.72" y1="347.3" x2="199.72" y2="349.7" stroke="#111" stroke-width="1"/>
<line x1="205.06" y1="347.3" x2="205.06" y2="349.7" stroke="#111" stroke-width="1"/>
<line x1="210.39" y1="347.3" x2="210.39" y2="349.7" stroke="#111" stroke-width="1"/>
<line x1="215.73" y1="347.3" x2="215.73" y2="349.7" stroke="#111" stroke-width="1"/>
<line x1="221.06" y1="347.3" x2="221.06" y2="349.7" stroke="#111" stroke-width="1"/>
<line x1="226.4" y1="347.3" x2="226.4" y2="349.7" stroke="#111" stroke-width="1"/>
<line x1="231.73" y1="347.3" x2="231.73" y2="349.7" stroke="#111" stroke-width="1"/>
<line x1="237.07" y1="347.3" x2="237.07" y2="349.7" stroke="#111" stroke-width="1"/>
<line x1="242.4" y1="347.3" x2="242.4" y2="349.7" stroke="#111" stroke-width="1"/>
<line x1="247.74" y1="347.3" x2="247.74" y2="349.7" stroke="#111" stroke-width="1"/>
<line x1="253.07" y1="347.3" x2="253.07" y2="349.7" stroke="#111" stroke-width="1"/>
<line x1="258.41" y1="347.3" x2="258.41" y2="349.7" stroke="#111" stroke-width="1"/>
<line x1="263.74" y1="347.3" x2="263.74" y2="349.7" stroke="#111" stroke-width="1"/>
<line x1="269.08" y1="347.3" x2="269.08" y2="349.7" stroke="#111" stroke-width="1"/>
<line x1="274.41" y1="347.3" x2="274.41" y2="349.7" stroke="#111" stroke-width="1"/>
<line x1="279.75" y1="347.3" x2="279.75" y2="349.7" stroke="#111" stroke-width="1"/>
<line x1="285.08" y1="347.3" x2="285.08" y2="349.7" stroke="#111" stroke-width="1"/>
<line x1="290.42" y1="347.3" x2="290.42" y2="349.7" stroke="#111" stroke-width="1"/>
<line x1="295.75" y1="347.3" x2="295.75" y2="349.7" stroke="#111" stroke-width="1"/>
<line x1="301.09" y1="347.3" x2="301.09" y2="349.7" stroke="#111" stroke-width="1"/>
<line x1="306.42" y1="347.3" x2="306.42" y2="349.7" stroke="#111" stroke-width="1"/>
<line x1="311.76" y1="347.3" x2="311.76" y2="349.7" stroke="#111" stroke-width="1"/>
<line x1="317.09" y1="347.3" x2="317.09" y2="349.7" stroke="#111" stroke-width="1"/>
<line x1="322.43" y1="347.3" x2="322.43" y2="349.7" stroke="#111" stroke-width="1"/>
<line x1="327.76" y1="347.3" x2="327.76" y2="349.7" stroke="#111" stroke-width="1"/>
<line x1="333.1" y1="347.3" x2="333.1" y2="349.7" stroke="#111" stroke-width="1"/>
<line x1="338.43" y1="347.3" x2="338.43" y2="349.7" stroke="#111" stroke-width="1"/>
<line x1="343.77" y1="347.3" x2="343.77" y2="349.7" stroke="#111" stroke-width="1"/>
<line x1="349.1" y1="347.3" x2="349.1" y2="349.7" stroke="#111" stroke-width="1"/>
<line x1="354.44" y1="347.3" x2="354.44" y2="349.7" stroke="#111" stroke-width="1"/>
<line x1="359.77" y1="347.3" x2="359.77" y2="349.7" stroke="#111" stroke-width="1"/>
<line x1="365.11" y1="347.3" x2="365.11" y2="349.7" stroke="#111" stroke-width="1"/>
<line x1="370.44" y1="347.3" x2="370.44" y2="349.7" stroke="#111" stroke-width="1"/>
<line x1="375.78" y1="347.3" x2="375.78" y2="349.7" stroke="#111" stroke-width="1"/>
<line x1="381.11" y1="347.3" x2="381.11" y2="349.7" stroke="#111" stroke-width="1"/>
<line x1="386.45" y1="347.3" x2="386.45" y2="349.7" stroke="#111" stroke-width="1"/>
<line x1="391.78" y1="347.3" x2="391.78" y2="349.7" stroke="#111" stroke-width="1"/>
<line x1="397.12" y1="347.3" x2="397.12" y2="349.7" stroke="#111" stroke-width="1"/>
<line x1="402.45" y1="347.3" x2="402.45" y2="349.7" stroke="#111" stroke-width="1"/>
<line x1="407.79" y1="347.3" x2="407.79" y2="349.7" stroke="#111" stroke-width="1"/>
<line x1="413.12" y1="347.3" x2="413.12" y2="349.7" stroke="#111" stroke-width="1"/>
<line x1="418.46" y1="347.3" x2="418.46" y2="349.7" stroke="#111" stroke-width="1"/>
<line x1="423.79" y1="347.3" x2="423.79" y2="349.7" stroke="#111" stroke-width="1"/>
<line x1="429.13" y1="347.3" x2="429.13" y2="349.7" stroke="#111" stroke-width="1"/>
<line x1="434.46" y1="347.3" x2="434.46" y2="349.7" stroke="#111" stroke-width="1"/>
<line x1="439.8" y1="347.3" x2="439.8" y2="349.7" stroke="#111" stroke-width="1"/>
<line x1="445.13" y1="347.3" x2="445.13" y2="349.7" stroke="#111" stroke-width="1"/>
<line x1="450.47" y1="347.3" x2="450.47" y2="349.7" stroke="#111" stroke-width="1"/>
<line x1="455.8" y1="347.3" x2="455.8" y2="349.7" stroke="#111" stroke-width="1"/>
<line x1="461.14" y1="347.3" x2="461.14" y2="349.7" stroke="#111" stroke-width="1"/>
<text transform="translate(25.37,352.6) rotate(-90)" font-size="4.8" fill="#dfbb7f" text-anchor="end" opacity="0.85">1</text>
<text transform="translate(30.7,352.6) rotate(-90)" font-size="4.8" fill="#dfbb7f" text-anchor="end" opacity="0.85">2</text>
<text transform="translate(36.04,352.6) rotate(-90)" font-size="4.8" fill="#dfbb7f" text-anchor="end" opacity="0.85">3</text>
<text transform="translate(41.37,352.6) rotate(-90)" font-size="4.8" fill="#dfbb7f" text-anchor="end" opacity="0.85">4</text>
<text transform="translate(46.71,352.6) rotate(-90)" font-size="4.8" fill="#dfbb7f" text-anchor="end" opacity="0.85">5</text>
<text transform="translate(52.04,352.6) rotate(-90)" font-size="4.8" fill="#dfbb7f" text-anchor="end" opacity="0.85">6+</text>
<text transform="translate(57.38,352.6) rotate(-90)" font-size="4.8" fill="#cc7a29" text-anchor="end" opacity="0.85">1</text>
<text transform="translate(62.71,352.6) rotate(-90)" font-size="4.8" fill="#cc7a29" text-anchor="end" opacity="0.85">2</text>
<text transform="translate(68.05,352.6) rotate(-90)" font-size="4.8" fill="#cc7a29" text-anchor="end" opacity="0.85">3</text>
<text transform="translate(73.38,352.6) rotate(-90)" font-size="4.8" fill="#cc7a29" text-anchor="end" opacity="0.85">4</text>
<text transform="translate(78.72,352.6) rotate(-90)" font-size="4.8" fill="#cc7a29" text-anchor="end" opacity="0.85">5</text>
<text transform="translate(84.05,352.6) rotate(-90)" font-size="4.8" fill="#cc7a29" text-anchor="end" opacity="0.85">6+</text>
<text transform="translate(89.39,352.6) rotate(-90)" font-size="4.8" fill="#b3d69c" text-anchor="end" opacity="0.85">0</text>
<text transform="translate(94.72,352.6) rotate(-90)" font-size="4.8" fill="#b3d69c" text-anchor="end" opacity="0.85">1</text>
<text transform="translate(100.06,352.6) rotate(-90)" font-size="4.8" fill="#b3d69c" text-anchor="end" opacity="0.85">2</text>
<text transform="translate(105.39,352.6) rotate(-90)" font-size="4.8" fill="#b3d69c" text-anchor="end" opacity="0.85">3</text>
<text transform="translate(110.73,352.6) rotate(-90)" font-size="4.8" fill="#b3d69c" text-anchor="end" opacity="0.85">4</text>
<text transform="translate(116.06,352.6) rotate(-90)" font-size="4.8" fill="#b3d69c" text-anchor="end" opacity="0.85">5+</text>
<text transform="translate(121.4,352.6) rotate(-90)" font-size="4.8" fill="#5d9f3f" text-anchor="end" opacity="0.85">0</text>
<text transform="translate(126.73,352.6) rotate(-90)" font-size="4.8" fill="#5d9f3f" text-anchor="end" opacity="0.85">1</text>
<text transform="translate(132.07,352.6) rotate(-90)" font-size="4.8" fill="#5d9f3f" text-anchor="end" opacity="0.85">2</text>
<text transform="translate(137.4,352.6) rotate(-90)" font-size="4.8" fill="#5d9f3f" text-anchor="end" opacity="0.85">3</text>
<text transform="translate(142.74,352.6) rotate(-90)" font-size="4.8" fill="#5d9f3f" text-anchor="end" opacity="0.85">4</text>
<text transform="translate(148.07,352.6) rotate(-90)" font-size="4.8" fill="#5d9f3f" text-anchor="end" opacity="0.85">5+</text>
<text transform="translate(153.41,352.6) rotate(-90)" font-size="4.8" fill="#dba4cc" text-anchor="end" opacity="0.85">1</text>
<text transform="translate(158.74,352.6) rotate(-90)" font-size="4.8" fill="#dba4cc" text-anchor="end" opacity="0.85">2</text>
<text transform="translate(164.08,352.6) rotate(-90)" font-size="4.8" fill="#dba4cc" text-anchor="end" opacity="0.85">3</text>
<text transform="translate(169.41,352.6) rotate(-90)" font-size="4.8" fill="#dba4cc" text-anchor="end" opacity="0.85">4</text>
<text transform="translate(174.75,352.6) rotate(-90)" font-size="4.8" fill="#dba4cc" text-anchor="end" opacity="0.85">5</text>
<text transform="translate(180.08,352.6) rotate(-90)" font-size="4.8" fill="#dba4cc" text-anchor="end" opacity="0.85">6+</text>
<text transform="translate(185.42,352.6) rotate(-90)" font-size="4.8" fill="#a9186f" text-anchor="end" opacity="0.85">1</text>
<text transform="translate(190.75,352.6) rotate(-90)" font-size="4.8" fill="#a9186f" text-anchor="end" opacity="0.85">2</text>
<text transform="translate(196.09,352.6) rotate(-90)" font-size="4.8" fill="#a9186f" text-anchor="end" opacity="0.85">3</text>
<text transform="translate(201.42,352.6) rotate(-90)" font-size="4.8" fill="#a9186f" text-anchor="end" opacity="0.85">4</text>
<text transform="translate(206.76,352.6) rotate(-90)" font-size="4.8" fill="#a9186f" text-anchor="end" opacity="0.85">5</text>
<text transform="translate(212.09,352.6) rotate(-90)" font-size="4.8" fill="#a9186f" text-anchor="end" opacity="0.85">6+</text>
<text transform="translate(217.43,352.6) rotate(-90)" font-size="4.8" fill="#c49189" text-anchor="end" opacity="0.85">1</text>
<text transform="translate(222.76,352.6) rotate(-90)" font-size="4.8" fill="#c49189" text-anchor="end" opacity="0.85">2</text>
<text transform="translate(228.1,352.6) rotate(-90)" font-size="4.8" fill="#c49189" text-anchor="end" opacity="0.85">3</text>
<text transform="translate(233.43,352.6) rotate(-90)" font-size="4.8" fill="#c49189" text-anchor="end" opacity="0.85">4</text>
<text transform="translate(238.77,352.6) rotate(-90)" font-size="4.8" fill="#c49189" text-anchor="end" opacity="0.85">5</text>
<text transform="translate(244.1,352.6) rotate(-90)" font-size="4.8" fill="#c49189" text-anchor="end" opacity="0.85">6+</text>
<text transform="translate(249.44,352.6) rotate(-90)" font-size="4.8" fill="#8f1a27" text-anchor="end" opacity="0.85">1</text>
<text transform="translate(254.77,352.6) rotate(-90)" font-size="4.8" fill="#8f1a27" text-anchor="end" opacity="0.85">2</text>
<text transform="translate(260.11,352.6) rotate(-90)" font-size="4.8" fill="#8f1a27" text-anchor="end" opacity="0.85">3</text>
<text transform="translate(265.44,352.6) rotate(-90)" font-size="4.8" fill="#8f1a27" text-anchor="end" opacity="0.85">4</text>
<text transform="translate(270.78,352.6) rotate(-90)" font-size="4.8" fill="#8f1a27" text-anchor="end" opacity="0.85">5</text>
<text transform="translate(276.11,352.6) rotate(-90)" font-size="4.8" fill="#8f1a27" text-anchor="end" opacity="0.85">6+</text>
<text transform="translate(281.45,352.6) rotate(-90)" font-size="4.8" fill="#b8ccf0" text-anchor="end" opacity="0.85">0</text>
<text transform="translate(286.78,352.6) rotate(-90)" font-size="4.8" fill="#b8ccf0" text-anchor="end" opacity="0.85">1</text>
<text transform="translate(292.12,352.6) rotate(-90)" font-size="4.8" fill="#b8ccf0" text-anchor="end" opacity="0.85">2</text>
<text transform="translate(297.45,352.6) rotate(-90)" font-size="4.8" fill="#b8ccf0" text-anchor="end" opacity="0.85">3</text>
<text transform="translate(302.79,352.6) rotate(-90)" font-size="4.8" fill="#b8ccf0" text-anchor="end" opacity="0.85">4</text>
<text transform="translate(308.12,352.6) rotate(-90)" font-size="4.8" fill="#b8ccf0" text-anchor="end" opacity="0.85">5+</text>
<text transform="translate(313.46,352.6) rotate(-90)" font-size="4.8" fill="#6b99d9" text-anchor="end" opacity="0.85">0</text>
<text transform="translate(318.79,352.6) rotate(-90)" font-size="4.8" fill="#6b99d9" text-anchor="end" opacity="0.85">1</text>
<text transform="translate(324.13,352.6) rotate(-90)" font-size="4.8" fill="#6b99d9" text-anchor="end" opacity="0.85">2</text>
<text transform="translate(329.46,352.6) rotate(-90)" font-size="4.8" fill="#6b99d9" text-anchor="end" opacity="0.85">3</text>
<text transform="translate(334.8,352.6) rotate(-90)" font-size="4.8" fill="#6b99d9" text-anchor="end" opacity="0.85">4</text>
<text transform="translate(340.13,352.6) rotate(-90)" font-size="4.8" fill="#6b99d9" text-anchor="end" opacity="0.85">5+</text>
<text transform="translate(345.47,352.6) rotate(-90)" font-size="4.8" fill="#8d90b1" text-anchor="end" opacity="0.85">0</text>
<text transform="translate(350.8,352.6) rotate(-90)" font-size="4.8" fill="#8d90b1" text-anchor="end" opacity="0.85">1</text>
<text transform="translate(356.14,352.6) rotate(-90)" font-size="4.8" fill="#8d90b1" text-anchor="end" opacity="0.85">2</text>
<text transform="translate(361.47,352.6) rotate(-90)" font-size="4.8" fill="#8d90b1" text-anchor="end" opacity="0.85">3</text>
<text transform="translate(366.81,352.6) rotate(-90)" font-size="4.8" fill="#8d90b1" text-anchor="end" opacity="0.85">4</text>
<text transform="translate(372.14,352.6) rotate(-90)" font-size="4.8" fill="#8d90b1" text-anchor="end" opacity="0.85">5+</text>
<text transform="translate(377.48,352.6) rotate(-90)" font-size="4.8" fill="#253565" text-anchor="end" opacity="0.85">0</text>
<text transform="translate(382.81,352.6) rotate(-90)" font-size="4.8" fill="#253565" text-anchor="end" opacity="0.85">1</text>
<text transform="translate(388.15,352.6) rotate(-90)" font-size="4.8" fill="#253565" text-anchor="end" opacity="0.85">2</text>
<text transform="translate(393.48,352.6) rotate(-90)" font-size="4.8" fill="#253565" text-anchor="end" opacity="0.85">3</text>
<text transform="translate(398.82,352.6) rotate(-90)" font-size="4.8" fill="#253565" text-anchor="end" opacity="0.85">4</text>
<text transform="translate(404.15,352.6) rotate(-90)" font-size="4.8" fill="#253565" text-anchor="end" opacity="0.85">5+</text>
<text transform="translate(409.49,352.6) rotate(-90)" font-size="4.8" fill="#d9d5ef" text-anchor="end" opacity="0.85">1</text>
<text transform="translate(414.82,352.6) rotate(-90)" font-size="4.8" fill="#9d8dc5" text-anchor="end" opacity="0.85">1</text>
<text transform="translate(420.16,352.6) rotate(-90)" font-size="4.8" fill="#9d8dc5" text-anchor="end" opacity="0.85">2</text>
<text transform="translate(425.49,352.6) rotate(-90)" font-size="4.8" fill="#9b8ba9" text-anchor="end" opacity="0.85">1</text>
<text transform="translate(430.83,352.6) rotate(-90)" font-size="4.8" fill="#9b8ba9" text-anchor="end" opacity="0.85">2</text>
<text transform="translate(436.16,352.6) rotate(-90)" font-size="4.8" fill="#9b8ba9" text-anchor="end" opacity="0.85">3</text>
<text transform="translate(441.5,352.6) rotate(-90)" font-size="4.8" fill="#4b1f5b" text-anchor="end" opacity="0.85">1</text>
<text transform="translate(446.83,352.6) rotate(-90)" font-size="4.8" fill="#4b1f5b" text-anchor="end" opacity="0.85">2</text>
<text transform="translate(452.17,352.6) rotate(-90)" font-size="4.8" fill="#4b1f5b" text-anchor="end" opacity="0.85">3</text>
<text transform="translate(457.5,352.6) rotate(-90)" font-size="4.8" fill="#4b1f5b" text-anchor="end" opacity="0.85">4</text>
<text transform="translate(462.84,352.6) rotate(-90)" font-size="4.8" fill="#4b1f5b" text-anchor="end" opacity="0.85">5+</text>
<text x="242.7" y="368.3" font-size="9.6" fill="#3a3a3a" text-anchor="middle" font-weight="normal" textLength="39.2" lengthAdjust="spacingAndGlyphs">Components</text>
<text x="469" y="331" font-size="6.8" fill="#222" text-anchor="start" font-weight="normal" textLength="52" lengthAdjust="spacingAndGlyphs">MM Relapse ID 3</text>
</svg>
</body></html>
